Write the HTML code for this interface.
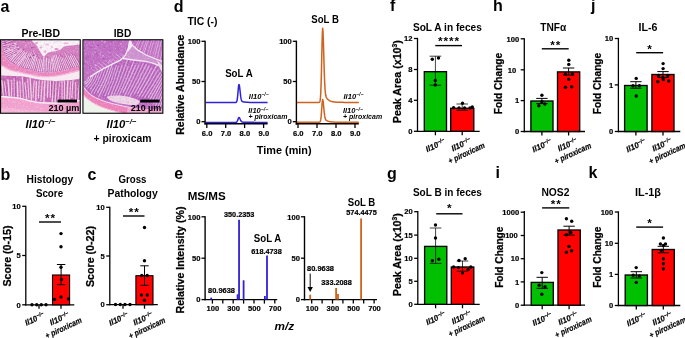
<!DOCTYPE html>
<html><head><meta charset="utf-8"><title>Figure</title>
<style>html,body{margin:0;padding:0;background:#fff;}svg{display:block;}text{font-family:"Liberation Sans",sans-serif;}</style>
</head><body>
<svg width="685" height="338" viewBox="0 0 685 338">
<rect width="685" height="338" fill="#fff"/>
<g opacity="0.999">
<text x="0.5" y="11.6" font-size="16" font-weight="bold" text-anchor="start" fill="#000" >a</text>
<text x="0.5" y="180" font-size="16" font-weight="bold" text-anchor="start" fill="#000" >b</text>
<text x="87.5" y="180" font-size="16" font-weight="bold" text-anchor="start" fill="#000" >c</text>
<text x="173.8" y="11.8" font-size="16" font-weight="bold" text-anchor="start" fill="#000" >d</text>
<text x="174.3" y="179.2" font-size="16" font-weight="bold" text-anchor="start" fill="#000" >e</text>
<text x="390" y="11.3" font-size="16" font-weight="bold" text-anchor="start" fill="#000" >f</text>
<text x="387" y="178.8" font-size="16" font-weight="bold" text-anchor="start" fill="#000" >g</text>
<text x="493" y="11.3" font-size="16" font-weight="bold" text-anchor="start" fill="#000" >h</text>
<text x="495.5" y="178.4" font-size="16" font-weight="bold" text-anchor="start" fill="#000" >i</text>
<text x="591" y="11.3" font-size="16" font-weight="bold" text-anchor="start" fill="#000" >j</text>
<text x="588.5" y="178.4" font-size="16" font-weight="bold" text-anchor="start" fill="#000" >k</text>
<text x="40.7" y="37.2" font-size="10.8" font-weight="bold" text-anchor="middle" fill="#000" textLength="38.6" lengthAdjust="spacingAndGlyphs" >Pre-IBD</text>
<text x="122.5" y="37.2" font-size="10.8" font-weight="bold" text-anchor="middle" fill="#000" textLength="17.5" lengthAdjust="spacingAndGlyphs" >IBD</text>
<g id="histo"><defs>
<filter id="bl" x="-5%" y="-5%" width="110%" height="110%"><feGaussianBlur stdDeviation="0.65"/></filter>
<filter id="bl3" x="-5%" y="-5%" width="110%" height="110%"><feGaussianBlur stdDeviation="0.35"/></filter>
<filter id="nz" x="0" y="0" width="100%" height="100%">
<feTurbulence type="fractalNoise" baseFrequency="0.6" numOctaves="2" seed="3" result="n"/>
<feColorMatrix in="n" type="matrix" values="0 0 0 0 1  0 0 0 0 1  0 0 0 0 1  0 0 0 -2.4 1.3" result="m"/>
<feComposite in="m" in2="SourceGraphic" operator="in"/>
</filter>
<filter id="nzd" x="0" y="0" width="100%" height="100%">
<feTurbulence type="fractalNoise" baseFrequency="0.7" numOctaves="2" seed="11" result="n"/>
<feColorMatrix in="n" type="matrix" values="0 0 0 0 0.55  0 0 0 0 0.2  0 0 0 0 0.6  0 0 0 -2.6 1.35" result="m"/>
<feComposite in="m" in2="SourceGraphic" operator="in"/>
</filter>
<pattern id="cr1" width="2.6" height="10" patternUnits="userSpaceOnUse"><rect width="2.6" height="10" fill="#b954ac"/><rect x="0" width="1.0" height="10" fill="#f1d6e8"/></pattern>
<pattern id="cr2" width="2.9" height="10" patternUnits="userSpaceOnUse" patternTransform="rotate(12)"><rect width="2.9" height="10" fill="#b457b6"/><rect x="0" width="0.9" height="10" fill="#e9c6e6"/></pattern>
<clipPath id="cpL"><rect x="0.9" y="40.1" width="79" height="72.8"/></clipPath>
<clipPath id="cpR"><rect x="83.3" y="40.1" width="79.3" height="72.8"/></clipPath>
</defs>
<g clip-path="url(#cpL)"><g filter="url(#bl)">
<rect x="0" y="39" width="81" height="75" fill="#f7e9f1"/>
<path d="M-1.0 40.0 C-0.5 40.9 1.0 43.2 1.8 45.3 C2.6 47.4 2.5 50.1 3.6 52.6 C4.7 55.1 6.1 58.2 8.5 60.5 C10.9 62.8 14.6 64.9 18.2 66.5 C21.8 68.1 26.2 69.2 30.3 70.2 C34.4 71.2 38.5 72.3 42.5 72.6 C46.5 72.9 50.6 72.5 54.6 72.0 C58.6 71.5 62.3 70.8 66.7 69.8 C71.1 68.8 78.6 66.9 81.0 66.3 L81.0 70.2 C78.6 70.8 71.1 72.8 66.7 73.8 C62.3 74.8 58.6 75.6 54.6 76.1 C50.6 76.6 46.5 77.0 42.5 76.7 C38.5 76.5 34.4 75.4 30.3 74.6 C26.2 73.8 21.6 72.6 18.2 71.8 C14.8 71.0 12.4 70.8 10.0 70.0 C7.6 69.2 5.8 68.0 4.0 67.0 C2.2 66.0 -0.2 64.5 -1.0 64.0 Z" fill="#eb84bd"/>
<path d="M81.0 70.2 C78.6 70.8 71.1 72.8 66.7 73.8 C62.3 74.8 58.6 75.6 54.6 76.1 C50.6 76.6 46.5 77.0 42.5 76.7 C38.5 76.5 34.4 75.4 30.3 74.6 C26.2 73.8 21.6 72.6 18.2 71.8 C14.8 71.0 12.4 70.8 10.0 70.0 C7.6 69.2 5.8 68.0 4.0 67.0 C2.2 66.0 -0.2 64.5 -1.0 64.0" fill="none" stroke="#f3b4d8" stroke-width="1.3"/>
<path d="M-1.0 40.0 C-0.5 40.9 1.0 43.2 1.8 45.3 C2.6 47.4 2.5 50.1 3.6 52.6 C4.7 55.1 6.1 58.2 8.5 60.5 C10.9 62.8 14.6 64.9 18.2 66.5 C21.8 68.1 26.2 69.2 30.3 70.2 C34.4 71.2 38.5 72.3 42.5 72.6 C46.5 72.9 50.6 72.5 54.6 72.0 C58.6 71.5 62.3 70.8 66.7 69.8 C71.1 68.8 78.6 66.9 81.0 66.3 L81 39 L-1 39 Z" fill="#d37cbe"/>
<clipPath id="cpM"><path d="M-1.0 40.0 C-0.5 40.9 1.0 43.2 1.8 45.3 C2.6 47.4 2.5 50.1 3.6 52.6 C4.7 55.1 6.1 58.2 8.5 60.5 C10.9 62.8 14.6 64.9 18.2 66.5 C21.8 68.1 26.2 69.2 30.3 70.2 C34.4 71.2 38.5 72.3 42.5 72.6 C46.5 72.9 50.6 72.5 54.6 72.0 C58.6 71.5 62.3 70.8 66.7 69.8 C71.1 68.8 78.6 66.9 81.0 66.3 L81 39 L-1 39 Z"/></clipPath><g clip-path="url(#cpM)">
<line x1="0.2" y1="40.6" x2="12.8" y2="36.8" stroke="#eecde3" stroke-width="1.19" stroke-linecap="round"/>
<line x1="-0.1" y1="41.6" x2="14.1" y2="37.2" stroke="#a6469e" stroke-width="0.75" opacity="0.8"/>
<line x1="1.5" y1="42.3" x2="12.2" y2="38.8" stroke="#eecde3" stroke-width="1.06" stroke-linecap="round"/>
<line x1="0.8" y1="43.4" x2="13.5" y2="39.2" stroke="#a6469e" stroke-width="0.75" opacity="0.8"/>
<line x1="2.3" y1="44.0" x2="13.0" y2="40.3" stroke="#eecde3" stroke-width="0.92" stroke-linecap="round"/>
<line x1="1.7" y1="45.1" x2="14.3" y2="40.8" stroke="#a6469e" stroke-width="0.75" opacity="0.8"/>
<line x1="2.7" y1="46.0" x2="16.3" y2="43.2" stroke="#eecde3" stroke-width="0.94" stroke-linecap="round"/>
<line x1="2.2" y1="47.0" x2="17.5" y2="43.8" stroke="#a6469e" stroke-width="0.75" opacity="0.8"/>
<line x1="3.9" y1="47.8" x2="16.7" y2="44.9" stroke="#eecde3" stroke-width="0.96" stroke-linecap="round"/>
<line x1="2.7" y1="48.9" x2="17.9" y2="45.5" stroke="#a6469e" stroke-width="0.75" opacity="0.8"/>
<line x1="4.2" y1="49.7" x2="15.9" y2="46.9" stroke="#eecde3" stroke-width="1.33" stroke-linecap="round"/>
<line x1="3.2" y1="50.8" x2="17.1" y2="47.5" stroke="#a6469e" stroke-width="0.75" opacity="0.8"/>
<line x1="4.4" y1="51.6" x2="18.3" y2="47.6" stroke="#eecde3" stroke-width="1.34" stroke-linecap="round"/>
<line x1="3.7" y1="52.7" x2="19.5" y2="48.2" stroke="#a6469e" stroke-width="0.75" opacity="0.8"/>
<line x1="5.6" y1="53.0" x2="15.3" y2="48.2" stroke="#eecde3" stroke-width="1.03" stroke-linecap="round"/>
<line x1="4.7" y1="54.4" x2="16.6" y2="48.5" stroke="#a6469e" stroke-width="0.75" opacity="0.8"/>
<line x1="5.9" y1="55.0" x2="16.7" y2="49.4" stroke="#eecde3" stroke-width="1.04" stroke-linecap="round"/>
<line x1="5.7" y1="56.1" x2="18.1" y2="49.7" stroke="#a6469e" stroke-width="0.75" opacity="0.8"/>
<line x1="7.0" y1="56.6" x2="21.2" y2="49.0" stroke="#eecde3" stroke-width="1.16" stroke-linecap="round"/>
<line x1="6.8" y1="57.7" x2="22.5" y2="49.2" stroke="#a6469e" stroke-width="0.75" opacity="0.8"/>
<line x1="8.2" y1="58.2" x2="21.2" y2="50.9" stroke="#eecde3" stroke-width="1.15" stroke-linecap="round"/>
<line x1="7.8" y1="59.4" x2="22.5" y2="51.1" stroke="#a6469e" stroke-width="0.75" opacity="0.8"/>
<line x1="8.9" y1="60.0" x2="18.3" y2="52.9" stroke="#eecde3" stroke-width="0.99" stroke-linecap="round"/>
<line x1="9.0" y1="61.0" x2="19.7" y2="52.9" stroke="#a6469e" stroke-width="0.75" opacity="0.8"/>
<line x1="10.7" y1="60.7" x2="20.9" y2="49.6" stroke="#eecde3" stroke-width="1.04" stroke-linecap="round"/>
<line x1="10.8" y1="61.9" x2="22.3" y2="49.3" stroke="#a6469e" stroke-width="0.75" opacity="0.8"/>
<line x1="12.4" y1="61.7" x2="22.0" y2="50.9" stroke="#eecde3" stroke-width="1.03" stroke-linecap="round"/>
<line x1="12.4" y1="62.9" x2="23.4" y2="50.6" stroke="#a6469e" stroke-width="0.75" opacity="0.8"/>
<line x1="14.2" y1="62.5" x2="24.3" y2="50.8" stroke="#eecde3" stroke-width="1.01" stroke-linecap="round"/>
<line x1="14.1" y1="64.0" x2="25.7" y2="50.5" stroke="#a6469e" stroke-width="0.75" opacity="0.8"/>
<line x1="15.8" y1="63.7" x2="24.9" y2="52.7" stroke="#eecde3" stroke-width="1.29" stroke-linecap="round"/>
<line x1="15.8" y1="65.0" x2="26.3" y2="52.3" stroke="#a6469e" stroke-width="0.75" opacity="0.8"/>
<line x1="17.3" y1="64.9" x2="26.9" y2="52.8" stroke="#eecde3" stroke-width="1.34" stroke-linecap="round"/>
<line x1="17.5" y1="66.0" x2="28.3" y2="52.5" stroke="#a6469e" stroke-width="0.75" opacity="0.8"/>
<line x1="19.0" y1="65.7" x2="25.2" y2="55.8" stroke="#eecde3" stroke-width="1.24" stroke-linecap="round"/>
<line x1="19.2" y1="66.9" x2="26.5" y2="55.3" stroke="#a6469e" stroke-width="0.75" opacity="0.8"/>
<line x1="20.8" y1="66.2" x2="26.3" y2="55.7" stroke="#eecde3" stroke-width="0.92" stroke-linecap="round"/>
<line x1="21.1" y1="67.4" x2="27.6" y2="55.1" stroke="#a6469e" stroke-width="0.75" opacity="0.8"/>
<line x1="22.8" y1="66.5" x2="29.3" y2="53.4" stroke="#eecde3" stroke-width="1.16" stroke-linecap="round"/>
<line x1="23.0" y1="68.0" x2="30.6" y2="52.7" stroke="#a6469e" stroke-width="0.75" opacity="0.8"/>
<line x1="24.5" y1="67.5" x2="31.4" y2="52.7" stroke="#eecde3" stroke-width="1.21" stroke-linecap="round"/>
<line x1="24.9" y1="68.5" x2="32.7" y2="52.0" stroke="#a6469e" stroke-width="0.75" opacity="0.8"/>
<line x1="26.4" y1="67.8" x2="32.3" y2="54.7" stroke="#eecde3" stroke-width="1.11" stroke-linecap="round"/>
<line x1="26.8" y1="69.1" x2="33.5" y2="54.0" stroke="#a6469e" stroke-width="0.75" opacity="0.8"/>
<line x1="28.4" y1="68.0" x2="34.5" y2="53.7" stroke="#eecde3" stroke-width="1.11" stroke-linecap="round"/>
<line x1="28.7" y1="69.7" x2="35.7" y2="53.1" stroke="#a6469e" stroke-width="0.75" opacity="0.8"/>
<line x1="30.0" y1="69.4" x2="35.4" y2="55.1" stroke="#eecde3" stroke-width="1.22" stroke-linecap="round"/>
<line x1="30.5" y1="70.3" x2="36.6" y2="54.4" stroke="#a6469e" stroke-width="0.75" opacity="0.8"/>
<line x1="32.1" y1="68.9" x2="36.2" y2="55.3" stroke="#eecde3" stroke-width="1.27" stroke-linecap="round"/>
<line x1="32.5" y1="70.6" x2="37.3" y2="54.5" stroke="#a6469e" stroke-width="0.75" opacity="0.8"/>
<line x1="33.8" y1="69.9" x2="37.2" y2="57.6" stroke="#eecde3" stroke-width="1.20" stroke-linecap="round"/>
<line x1="34.4" y1="71.0" x2="38.3" y2="56.8" stroke="#a6469e" stroke-width="0.75" opacity="0.8"/>
<line x1="35.8" y1="70.2" x2="38.5" y2="59.5" stroke="#eecde3" stroke-width="0.98" stroke-linecap="round"/>
<line x1="36.3" y1="71.4" x2="39.5" y2="58.6" stroke="#a6469e" stroke-width="0.75" opacity="0.8"/>
<line x1="37.6" y1="71.0" x2="40.2" y2="59.2" stroke="#eecde3" stroke-width="1.25" stroke-linecap="round"/>
<line x1="38.3" y1="71.8" x2="41.3" y2="58.4" stroke="#a6469e" stroke-width="0.75" opacity="0.8"/>
<line x1="39.5" y1="71.2" x2="41.9" y2="59.5" stroke="#eecde3" stroke-width="1.08" stroke-linecap="round"/>
<line x1="40.2" y1="72.1" x2="42.9" y2="58.6" stroke="#a6469e" stroke-width="0.75" opacity="0.8"/>
<line x1="41.4" y1="71.7" x2="44.3" y2="55.4" stroke="#eecde3" stroke-width="1.10" stroke-linecap="round"/>
<line x1="42.1" y1="72.5" x2="45.3" y2="54.6" stroke="#a6469e" stroke-width="0.75" opacity="0.8"/>
<line x1="43.3" y1="71.1" x2="43.6" y2="57.3" stroke="#eecde3" stroke-width="1.27" stroke-linecap="round"/>
<line x1="44.1" y1="72.5" x2="44.4" y2="56.3" stroke="#a6469e" stroke-width="0.75" opacity="0.8"/>
<line x1="45.2" y1="71.6" x2="44.9" y2="55.3" stroke="#eecde3" stroke-width="1.09" stroke-linecap="round"/>
<line x1="46.1" y1="72.4" x2="45.7" y2="54.2" stroke="#a6469e" stroke-width="0.75" opacity="0.8"/>
<line x1="47.1" y1="70.9" x2="46.6" y2="58.2" stroke="#eecde3" stroke-width="1.33" stroke-linecap="round"/>
<line x1="48.0" y1="72.3" x2="47.4" y2="57.2" stroke="#a6469e" stroke-width="0.75" opacity="0.8"/>
<line x1="49.1" y1="71.5" x2="48.3" y2="59.4" stroke="#eecde3" stroke-width="1.00" stroke-linecap="round"/>
<line x1="50.0" y1="72.2" x2="49.0" y2="58.4" stroke="#a6469e" stroke-width="0.75" opacity="0.8"/>
<line x1="51.0" y1="71.1" x2="49.9" y2="58.8" stroke="#eecde3" stroke-width="1.17" stroke-linecap="round"/>
<line x1="52.0" y1="72.1" x2="50.6" y2="57.8" stroke="#a6469e" stroke-width="0.75" opacity="0.8"/>
<line x1="53.0" y1="71.5" x2="51.5" y2="58.6" stroke="#eecde3" stroke-width="1.09" stroke-linecap="round"/>
<line x1="53.9" y1="72.0" x2="52.2" y2="57.6" stroke="#a6469e" stroke-width="0.75" opacity="0.8"/>
<line x1="54.8" y1="70.8" x2="52.3" y2="58.0" stroke="#eecde3" stroke-width="1.33" stroke-linecap="round"/>
<line x1="55.9" y1="71.8" x2="52.9" y2="56.9" stroke="#a6469e" stroke-width="0.75" opacity="0.8"/>
<line x1="56.7" y1="70.5" x2="53.1" y2="55.9" stroke="#eecde3" stroke-width="1.18" stroke-linecap="round"/>
<line x1="57.8" y1="71.4" x2="53.7" y2="54.8" stroke="#a6469e" stroke-width="0.75" opacity="0.8"/>
<line x1="58.7" y1="70.6" x2="54.7" y2="55.7" stroke="#eecde3" stroke-width="1.30" stroke-linecap="round"/>
<line x1="59.7" y1="71.1" x2="55.3" y2="54.6" stroke="#a6469e" stroke-width="0.75" opacity="0.8"/>
<line x1="60.4" y1="69.5" x2="56.1" y2="54.9" stroke="#eecde3" stroke-width="1.26" stroke-linecap="round"/>
<line x1="61.7" y1="70.7" x2="56.7" y2="53.8" stroke="#a6469e" stroke-width="0.75" opacity="0.8"/>
<line x1="62.5" y1="69.6" x2="58.4" y2="56.8" stroke="#eecde3" stroke-width="0.95" stroke-linecap="round"/>
<line x1="63.6" y1="70.4" x2="59.0" y2="55.7" stroke="#a6469e" stroke-width="0.75" opacity="0.8"/>
<line x1="64.5" y1="69.5" x2="59.6" y2="55.2" stroke="#eecde3" stroke-width="0.93" stroke-linecap="round"/>
<line x1="65.6" y1="70.0" x2="60.1" y2="54.1" stroke="#a6469e" stroke-width="0.75" opacity="0.8"/>
<line x1="66.4" y1="69.1" x2="61.9" y2="57.4" stroke="#eecde3" stroke-width="1.05" stroke-linecap="round"/>
<line x1="67.5" y1="69.6" x2="62.4" y2="56.3" stroke="#a6469e" stroke-width="0.75" opacity="0.8"/>
<line x1="68.3" y1="68.8" x2="63.7" y2="58.0" stroke="#eecde3" stroke-width="0.97" stroke-linecap="round"/>
<line x1="69.4" y1="69.1" x2="64.1" y2="56.9" stroke="#a6469e" stroke-width="0.75" opacity="0.8"/>
<line x1="70.1" y1="68.0" x2="65.3" y2="57.4" stroke="#eecde3" stroke-width="0.91" stroke-linecap="round"/>
<line x1="71.3" y1="68.7" x2="65.7" y2="56.3" stroke="#a6469e" stroke-width="0.75" opacity="0.8"/>
<line x1="71.9" y1="67.3" x2="65.0" y2="52.8" stroke="#eecde3" stroke-width="0.97" stroke-linecap="round"/>
<line x1="73.2" y1="68.2" x2="65.4" y2="51.7" stroke="#a6469e" stroke-width="0.75" opacity="0.8"/>
<line x1="73.9" y1="67.1" x2="68.3" y2="55.8" stroke="#eecde3" stroke-width="1.06" stroke-linecap="round"/>
<line x1="75.1" y1="67.7" x2="68.7" y2="54.7" stroke="#a6469e" stroke-width="0.75" opacity="0.8"/>
<line x1="75.6" y1="66.2" x2="70.4" y2="56.1" stroke="#eecde3" stroke-width="1.35" stroke-linecap="round"/>
<line x1="77.0" y1="67.3" x2="70.8" y2="55.1" stroke="#a6469e" stroke-width="0.75" opacity="0.8"/>
<line x1="77.6" y1="66.0" x2="71.2" y2="54.0" stroke="#eecde3" stroke-width="0.94" stroke-linecap="round"/>
<line x1="79.0" y1="66.8" x2="71.5" y2="52.9" stroke="#a6469e" stroke-width="0.75" opacity="0.8"/>
<line x1="79.6" y1="65.7" x2="73.9" y2="55.5" stroke="#eecde3" stroke-width="1.02" stroke-linecap="round"/>
<line x1="80.9" y1="66.3" x2="74.3" y2="54.4" stroke="#a6469e" stroke-width="0.75" opacity="0.8"/>
<circle cx="28.4" cy="42.9" r="0.62" fill="#e9a4cf"/>
<circle cx="32.4" cy="46.5" r="1.05" fill="#dd86c2"/>
<circle cx="26.0" cy="45.4" r="0.92" fill="#e9a4cf"/>
<circle cx="9.6" cy="46.6" r="0.71" fill="#a94aa2"/>
<circle cx="8.4" cy="49.7" r="0.70" fill="#dd86c2"/>
<circle cx="33.5" cy="55.3" r="0.99" fill="#a94aa2"/>
<circle cx="25.4" cy="44.1" r="0.80" fill="#dd86c2"/>
<circle cx="25.1" cy="57.8" r="0.78" fill="#f0c2de"/>
<circle cx="12.4" cy="54.6" r="1.07" fill="#f0c2de"/>
<circle cx="13.0" cy="44.0" r="0.78" fill="#a94aa2"/>
<circle cx="12.1" cy="48.7" r="1.00" fill="#dd86c2"/>
<circle cx="16.8" cy="51.8" r="1.00" fill="#e9a4cf"/>
<circle cx="5.0" cy="47.0" r="0.79" fill="#a94aa2"/>
<circle cx="12.0" cy="54.4" r="0.78" fill="#b655ab"/>
<circle cx="25.5" cy="41.5" r="0.60" fill="#a94aa2"/>
<circle cx="5.2" cy="42.7" r="0.98" fill="#b655ab"/>
<circle cx="33.4" cy="51.8" r="0.59" fill="#f0c2de"/>
<circle cx="19.1" cy="40.4" r="0.82" fill="#e9a4cf"/>
<circle cx="31.8" cy="47.8" r="1.00" fill="#a94aa2"/>
<circle cx="8.0" cy="44.5" r="0.80" fill="#f0c2de"/>
<circle cx="26.2" cy="45.9" r="0.75" fill="#dd86c2"/>
<circle cx="12.7" cy="48.2" r="0.99" fill="#dd86c2"/>
<circle cx="18.1" cy="54.9" r="0.58" fill="#dd86c2"/>
<circle cx="6.0" cy="49.2" r="0.97" fill="#b655ab"/>
<circle cx="21.1" cy="54.0" r="0.60" fill="#a94aa2"/>
<circle cx="16.6" cy="53.1" r="0.54" fill="#dd86c2"/>
<circle cx="23.5" cy="49.6" r="0.97" fill="#b655ab"/>
<circle cx="9.2" cy="45.0" r="0.80" fill="#e9a4cf"/>
<circle cx="19.5" cy="53.7" r="0.77" fill="#e9a4cf"/>
<circle cx="21.2" cy="49.1" r="0.62" fill="#dd86c2"/>
<circle cx="10.1" cy="49.1" r="0.80" fill="#b655ab"/>
<circle cx="9.2" cy="49.4" r="1.05" fill="#f0c2de"/>
<circle cx="30.5" cy="43.6" r="0.58" fill="#b655ab"/>
<circle cx="5.0" cy="48.0" r="0.90" fill="#e9a4cf"/>
<circle cx="15.1" cy="43.8" r="0.97" fill="#f0c2de"/>
<circle cx="30.6" cy="42.8" r="0.59" fill="#f0c2de"/>
<circle cx="30.1" cy="57.4" r="0.95" fill="#a94aa2"/>
<circle cx="33.8" cy="47.3" r="0.62" fill="#b655ab"/>
<circle cx="11.5" cy="53.0" r="0.70" fill="#e9a4cf"/>
<circle cx="16.1" cy="52.7" r="0.70" fill="#b655ab"/>
<circle cx="21.6" cy="49.2" r="0.57" fill="#e9a4cf"/>
<circle cx="31.3" cy="44.1" r="0.55" fill="#e9a4cf"/>
<circle cx="28.1" cy="55.3" r="0.74" fill="#f0c2de"/>
<circle cx="18.7" cy="49.3" r="0.92" fill="#b655ab"/>
<circle cx="4.0" cy="41.0" r="0.76" fill="#a94aa2"/>
<circle cx="21.9" cy="54.4" r="0.86" fill="#e9a4cf"/>
<circle cx="8.3" cy="44.8" r="0.77" fill="#e9a4cf"/>
<circle cx="12.2" cy="50.0" r="0.87" fill="#f0c2de"/>
</g>
<path d="M31.0 39.0 C31.3 39.5 32.1 41.0 33.0 42.0 C33.9 43.0 35.2 43.8 36.4 45.3 C37.6 46.8 38.8 49.5 40.0 51.3 C41.2 53.1 42.3 56.0 43.7 56.2 C45.1 56.4 46.7 53.4 48.5 52.6 C50.3 51.8 52.6 51.8 54.6 51.3 C56.6 50.8 59.1 50.3 60.7 49.5 C62.3 48.7 62.3 47.2 64.3 46.5 C66.3 45.8 70.0 45.7 72.8 45.3 C75.6 44.9 79.6 45.0 81.0 44.0 C82.4 43.0 81.0 39.8 81.0 39.0 Z" fill="#faf3f8"/>
<ellipse cx="36.5" cy="43" rx="1.6" ry="1.0" fill="#e59acb"/>
<ellipse cx="41" cy="47.5" rx="1.3" ry="0.9" fill="#e7a6d0"/>
<ellipse cx="47" cy="44.5" rx="2.2" ry="1.0" fill="#f0c4de"/>
<ellipse cx="56.5" cy="49.2" rx="2.2" ry="1.1" fill="#e590c6"/>
<ellipse cx="52" cy="47" rx="1.2" ry="0.8" fill="#eab0d4"/>
<ellipse cx="66" cy="43.2" rx="2.5" ry="0.9" fill="#eeb8d8"/>
<ellipse cx="45" cy="51.5" rx="1.2" ry="1.2" fill="#e9a8d0"/>
<path d="M-1.0 75.6 C1.2 75.7 7.8 75.8 12.0 76.0 C16.2 76.2 19.6 76.1 24.3 76.7 C29.0 77.3 35.0 79.0 40.0 79.7 C45.0 80.4 49.9 80.8 54.6 80.9 C59.3 81.0 63.6 80.7 68.0 80.3 C72.4 79.9 78.8 78.7 81.0 78.4 L81.0 99.5 C79.2 99.8 73.8 100.8 70.0 101.2 C66.2 101.7 62.9 102.1 58.3 102.2 C53.7 102.3 47.2 102.4 42.5 102.1 C37.8 101.8 34.4 101.0 30.3 100.2 C26.2 99.4 23.4 98.0 18.2 97.3 C13.0 96.6 2.2 96.0 -1.0 95.8 Z" fill="#c566b4"/>
<clipPath id="cpLM"><path d="M-1.0 75.6 C1.2 75.7 7.8 75.8 12.0 76.0 C16.2 76.2 19.6 76.1 24.3 76.7 C29.0 77.3 35.0 79.0 40.0 79.7 C45.0 80.4 49.9 80.8 54.6 80.9 C59.3 81.0 63.6 80.7 68.0 80.3 C72.4 79.9 78.8 78.7 81.0 78.4 L81.0 99.5 C79.2 99.8 73.8 100.8 70.0 101.2 C66.2 101.7 62.9 102.1 58.3 102.2 C53.7 102.3 47.2 102.4 42.5 102.1 C37.8 101.8 34.4 101.0 30.3 100.2 C26.2 99.4 23.4 98.0 18.2 97.3 C13.0 96.6 2.2 96.0 -1.0 95.8 Z"/></clipPath><g clip-path="url(#cpLM)">
<line x1="0.5" y1="81.3" x2="0.5" y2="103.6" stroke="#eecbe2" stroke-width="0.93" stroke-linecap="round"/>
<line x1="1.6" y1="79.3" x2="1.6" y2="104.6" stroke="#a2429c" stroke-width="0.7" opacity="0.7"/>
<line x1="1.8" y1="80.8" x2="4.2" y2="100.7" stroke="#eecbe2" stroke-width="1.46" stroke-linecap="round"/>
<line x1="4.1" y1="78.8" x2="4.1" y2="101.7" stroke="#a2429c" stroke-width="0.7" opacity="0.7"/>
<line x1="4.5" y1="81.8" x2="7.4" y2="104.0" stroke="#eecbe2" stroke-width="1.06" stroke-linecap="round"/>
<line x1="7.1" y1="79.8" x2="7.1" y2="105.0" stroke="#a2429c" stroke-width="0.7" opacity="0.7"/>
<line x1="8.0" y1="80.1" x2="9.5" y2="98.7" stroke="#eecbe2" stroke-width="1.49" stroke-linecap="round"/>
<line x1="11.9" y1="80.3" x2="11.5" y2="103.2" stroke="#eecbe2" stroke-width="1.29" stroke-linecap="round"/>
<line x1="12.8" y1="78.3" x2="12.8" y2="104.2" stroke="#a2429c" stroke-width="0.7" opacity="0.7"/>
<line x1="14.1" y1="78.2" x2="14.4" y2="103.2" stroke="#eecbe2" stroke-width="1.04" stroke-linecap="round"/>
<line x1="15.3" y1="76.2" x2="15.3" y2="104.2" stroke="#a2429c" stroke-width="0.7" opacity="0.7"/>
<line x1="17.3" y1="82.0" x2="17.8" y2="97.1" stroke="#eecbe2" stroke-width="1.49" stroke-linecap="round"/>
<line x1="19.9" y1="81.0" x2="20.6" y2="99.7" stroke="#eecbe2" stroke-width="0.93" stroke-linecap="round"/>
<line x1="22.4" y1="77.3" x2="23.8" y2="98.3" stroke="#eecbe2" stroke-width="1.32" stroke-linecap="round"/>
<line x1="24.2" y1="75.3" x2="24.2" y2="99.3" stroke="#a2429c" stroke-width="0.7" opacity="0.7"/>
<line x1="24.8" y1="82.9" x2="26.8" y2="99.3" stroke="#eecbe2" stroke-width="1.10" stroke-linecap="round"/>
<line x1="27.7" y1="79.0" x2="28.9" y2="97.6" stroke="#eecbe2" stroke-width="1.01" stroke-linecap="round"/>
<line x1="30.1" y1="77.5" x2="31.6" y2="102.7" stroke="#eecbe2" stroke-width="1.37" stroke-linecap="round"/>
<line x1="34.2" y1="80.8" x2="33.0" y2="97.6" stroke="#eecbe2" stroke-width="1.08" stroke-linecap="round"/>
<line x1="36.4" y1="81.7" x2="35.7" y2="101.2" stroke="#eecbe2" stroke-width="1.44" stroke-linecap="round"/>
<line x1="39.3" y1="80.7" x2="38.3" y2="98.0" stroke="#eecbe2" stroke-width="1.07" stroke-linecap="round"/>
<line x1="42.3" y1="81.2" x2="40.9" y2="100.5" stroke="#eecbe2" stroke-width="1.16" stroke-linecap="round"/>
<line x1="45.1" y1="77.1" x2="43.9" y2="101.8" stroke="#eecbe2" stroke-width="1.39" stroke-linecap="round"/>
<line x1="48.1" y1="77.5" x2="47.4" y2="97.3" stroke="#eecbe2" stroke-width="1.29" stroke-linecap="round"/>
<line x1="50.7" y1="77.3" x2="50.2" y2="97.1" stroke="#eecbe2" stroke-width="1.17" stroke-linecap="round"/>
<line x1="51.5" y1="75.3" x2="51.5" y2="98.1" stroke="#a2429c" stroke-width="0.7" opacity="0.7"/>
<line x1="53.9" y1="77.4" x2="52.1" y2="103.5" stroke="#eecbe2" stroke-width="1.17" stroke-linecap="round"/>
<line x1="54.1" y1="75.4" x2="54.1" y2="104.5" stroke="#a2429c" stroke-width="0.7" opacity="0.7"/>
<line x1="56.7" y1="79.8" x2="55.0" y2="102.7" stroke="#eecbe2" stroke-width="1.35" stroke-linecap="round"/>
<line x1="56.9" y1="77.8" x2="56.9" y2="103.7" stroke="#a2429c" stroke-width="0.7" opacity="0.7"/>
<line x1="59.8" y1="80.9" x2="57.9" y2="100.2" stroke="#eecbe2" stroke-width="1.04" stroke-linecap="round"/>
<line x1="60.0" y1="78.9" x2="60.0" y2="101.2" stroke="#a2429c" stroke-width="0.7" opacity="0.7"/>
<line x1="62.0" y1="77.3" x2="62.1" y2="101.4" stroke="#eecbe2" stroke-width="1.07" stroke-linecap="round"/>
<line x1="64.6" y1="81.2" x2="64.8" y2="101.3" stroke="#eecbe2" stroke-width="1.29" stroke-linecap="round"/>
<line x1="65.8" y1="79.2" x2="65.8" y2="102.3" stroke="#a2429c" stroke-width="0.7" opacity="0.7"/>
<line x1="68.0" y1="77.6" x2="67.0" y2="98.5" stroke="#eecbe2" stroke-width="1.48" stroke-linecap="round"/>
<line x1="70.8" y1="81.6" x2="69.4" y2="104.0" stroke="#eecbe2" stroke-width="1.18" stroke-linecap="round"/>
<line x1="71.2" y1="79.6" x2="71.2" y2="105.0" stroke="#a2429c" stroke-width="0.7" opacity="0.7"/>
<line x1="73.1" y1="78.7" x2="71.8" y2="97.5" stroke="#eecbe2" stroke-width="1.18" stroke-linecap="round"/>
<line x1="75.8" y1="82.5" x2="75.7" y2="103.5" stroke="#eecbe2" stroke-width="1.13" stroke-linecap="round"/>
<line x1="76.9" y1="80.5" x2="76.9" y2="104.5" stroke="#a2429c" stroke-width="0.7" opacity="0.7"/>
<line x1="79.8" y1="79.2" x2="77.8" y2="101.2" stroke="#eecbe2" stroke-width="1.06" stroke-linecap="round"/>
<line x1="79.9" y1="77.2" x2="79.9" y2="102.2" stroke="#a2429c" stroke-width="0.7" opacity="0.7"/>
</g>
<path d="M81.0 100.5 C79.2 100.8 73.8 101.8 70.0 102.2 C66.2 102.7 62.9 103.1 58.3 103.2 C53.7 103.3 47.2 103.4 42.5 103.1 C37.8 102.8 34.4 102.0 30.3 101.2 C26.2 100.4 23.4 99.0 18.2 98.3 C13.0 97.6 2.2 97.0 -1.0 96.8 L-1 115 L81 115 Z" fill="#f19fcd"/>
<path d="M81.0 100.5 C79.2 100.8 73.8 101.8 70.0 102.2 C66.2 102.7 62.9 103.1 58.3 103.2 C53.7 103.3 47.2 103.4 42.5 103.1 C37.8 102.8 34.4 102.0 30.3 101.2 C26.2 100.4 23.4 99.0 18.2 98.3 C13.0 97.6 2.2 97.0 -1.0 96.8" fill="none" stroke="#fbeef6" stroke-width="0.9"/>
<path d="M-1 107.5 C14 108.5 28 110 41 111 C52 112 68 112.5 81 112.5 V115 H-1 Z" fill="#f4b2d7"/>
</g>
<rect x="0" y="39" width="81" height="75" fill="#fff" filter="url(#nz)" opacity="0.33"/>
<g clip-path="url(#cpM)"><rect x="0" y="39" width="81" height="40" fill="#fff" filter="url(#nzd)" opacity="0.3"/></g>
</g>
<rect x="0.55" y="39.75" width="79.7" height="73.5" fill="none" stroke="#000" stroke-width="1.1"/>
<rect x="57.6" y="99.6" width="19.4" height="2.9" fill="#000"/>
<text x="79.4" y="111.1" font-size="8.8" font-weight="bold" text-anchor="end" textLength="31" lengthAdjust="spacingAndGlyphs">210 µm</text>
<g clip-path="url(#cpR)"><g filter="url(#bl)">
<rect x="82" y="39" width="82" height="75" fill="#bf6cc2"/>
<path d="M88.7 77.2 Q88.4 81.5 83.3 82.5" fill="none" stroke="#e0b8de" stroke-width="1.24" stroke-linecap="round" opacity="0.9"/>
<path d="M90.7 75.5 Q89.3 81.7 83.1 84.6" fill="none" stroke="#9c48a8" stroke-width="0.8" opacity="0.6"/>
<path d="M91.2 75.6 Q90.4 81.4 85.1 83.9" fill="none" stroke="#e0b8de" stroke-width="1.27" stroke-linecap="round" opacity="0.9"/>
<path d="M93.4 73.5 Q91.0 81.9 84.2 87.1" fill="none" stroke="#9c48a8" stroke-width="0.8" opacity="0.6"/>
<path d="M93.3 74.9 Q91.8 82.1 86.1 86.3" fill="none" stroke="#e0b8de" stroke-width="1.16" stroke-linecap="round" opacity="0.9"/>
<path d="M96.3 71.7 Q93.0 82.1 85.6 89.5" fill="none" stroke="#9c48a8" stroke-width="0.8" opacity="0.6"/>
<path d="M96.6 73.0 Q94.3 81.8 88.1 87.8" fill="none" stroke="#e0b8de" stroke-width="0.86" stroke-linecap="round" opacity="0.9"/>
<path d="M99.2 70.1 Q95.4 82.1 87.6 91.4" fill="none" stroke="#9c48a8" stroke-width="0.8" opacity="0.6"/>
<path d="M99.6 71.4 Q96.8 81.5 90.4 89.0" fill="none" stroke="#e0b8de" stroke-width="0.97" stroke-linecap="round" opacity="0.9"/>
<path d="M102.2 68.5 Q97.8 82.2 89.7 93.3" fill="none" stroke="#9c48a8" stroke-width="0.8" opacity="0.6"/>
<path d="M102.4 70.5 Q98.5 83.1 91.2 93.2" fill="none" stroke="#e0b8de" stroke-width="0.90" stroke-linecap="round" opacity="0.9"/>
<path d="M105.2 67.0 Q100.3 82.2 91.9 94.9" fill="none" stroke="#9c48a8" stroke-width="0.8" opacity="0.6"/>
<path d="M106.2 67.5 Q101.8 81.6 94.2 93.3" fill="none" stroke="#e0b8de" stroke-width="0.93" stroke-linecap="round" opacity="0.9"/>
<path d="M108.2 65.5 Q102.9 82.0 94.4 96.1" fill="none" stroke="#9c48a8" stroke-width="0.8" opacity="0.6"/>
<path d="M109.0 66.4 Q104.8 80.5 97.6 92.4" fill="none" stroke="#e0b8de" stroke-width="1.23" stroke-linecap="round" opacity="0.9"/>
<path d="M111.3 64.0 Q105.6 81.7 96.9 97.3" fill="none" stroke="#9c48a8" stroke-width="0.8" opacity="0.6"/>
<path d="M112.0 65.0 Q106.8 81.7 98.8 96.4" fill="none" stroke="#e0b8de" stroke-width="1.18" stroke-linecap="round" opacity="0.9"/>
<path d="M114.2 62.3 Q108.2 81.4 99.5 98.4" fill="none" stroke="#9c48a8" stroke-width="0.8" opacity="0.6"/>
<path d="M113.0 68.0 Q109.3 81.4 103.1 93.0" fill="none" stroke="#e0b8de" stroke-width="0.83" stroke-linecap="round" opacity="0.9"/>
<path d="M117.1 60.6 Q110.9 80.7 102.2 99.0" fill="none" stroke="#9c48a8" stroke-width="0.8" opacity="0.6"/>
<path d="M116.3 65.5 Q111.8 81.4 104.9 95.7" fill="none" stroke="#e0b8de" stroke-width="0.87" stroke-linecap="round" opacity="0.9"/>
<path d="M119.9 58.8 Q113.6 80.1 104.9 99.7" fill="none" stroke="#9c48a8" stroke-width="0.8" opacity="0.6"/>
<path d="M118.4 66.1 Q114.4 81.2 108.2 94.7" fill="none" stroke="#e0b8de" stroke-width="0.96" stroke-linecap="round" opacity="0.9"/>
<path d="M122.9 57.7 Q116.3 79.8 107.6 100.3" fill="none" stroke="#9c48a8" stroke-width="0.8" opacity="0.6"/>
<path d="M122.0 65.1 Q117.0 82.1 110.0 97.8" fill="none" stroke="#e0b8de" stroke-width="1.01" stroke-linecap="round" opacity="0.9"/>
<path d="M126.2 58.6 Q119.2 80.2 110.4 100.4" fill="none" stroke="#9c48a8" stroke-width="0.8" opacity="0.6"/>
<path d="M127.1 60.7 Q120.9 79.6 112.9 97.3" fill="none" stroke="#e0b8de" stroke-width="1.00" stroke-linecap="round" opacity="0.9"/>
<path d="M129.5 59.0 Q122.2 80.2 113.1 100.0" fill="none" stroke="#9c48a8" stroke-width="0.8" opacity="0.6"/>
<path d="M128.2 66.5 Q123.0 81.6 116.3 95.5" fill="none" stroke="#e0b8de" stroke-width="0.90" stroke-linecap="round" opacity="0.9"/>
<path d="M132.8 59.4 Q125.2 80.1 115.9 99.6" fill="none" stroke="#9c48a8" stroke-width="0.8" opacity="0.6"/>
<path d="M133.6 61.7 Q126.5 80.2 118.0 97.8" fill="none" stroke="#e0b8de" stroke-width="1.01" stroke-linecap="round" opacity="0.9"/>
<path d="M136.2 59.8 Q128.2 80.0 118.7 99.2" fill="none" stroke="#9c48a8" stroke-width="0.8" opacity="0.6"/>
<path d="M135.4 65.4 Q129.9 79.2 123.2 92.1" fill="none" stroke="#e0b8de" stroke-width="1.23" stroke-linecap="round" opacity="0.9"/>
<path d="M139.5 60.2 Q131.1 80.1 121.4 99.1" fill="none" stroke="#9c48a8" stroke-width="0.8" opacity="0.6"/>
<path d="M139.0 64.9 Q131.9 81.6 123.7 97.4" fill="none" stroke="#e0b8de" stroke-width="1.08" stroke-linecap="round" opacity="0.9"/>
<path d="M142.9 60.6 Q134.1 80.3 124.2 99.2" fill="none" stroke="#9c48a8" stroke-width="0.8" opacity="0.6"/>
<path d="M143.3 63.3 Q136.2 79.2 128.1 94.3" fill="none" stroke="#e0b8de" stroke-width="0.94" stroke-linecap="round" opacity="0.9"/>
<path d="M146.2 61.0 Q137.1 80.6 127.0 99.4" fill="none" stroke="#9c48a8" stroke-width="0.8" opacity="0.6"/>
<path d="M146.3 64.4 Q138.5 80.8 129.9 96.6" fill="none" stroke="#e0b8de" stroke-width="1.13" stroke-linecap="round" opacity="0.9"/>
<path d="M149.5 61.6 Q140.1 80.9 129.8 99.5" fill="none" stroke="#9c48a8" stroke-width="0.8" opacity="0.6"/>
<path d="M149.1 65.9 Q142.1 80.1 134.4 93.7" fill="none" stroke="#e0b8de" stroke-width="1.04" stroke-linecap="round" opacity="0.9"/>
<path d="M152.9 62.2 Q143.1 81.3 132.6 99.9" fill="none" stroke="#9c48a8" stroke-width="0.8" opacity="0.6"/>
<path d="M151.5 68.1 Q144.9 80.9 137.6 93.3" fill="none" stroke="#e0b8de" stroke-width="1.12" stroke-linecap="round" opacity="0.9"/>
<path d="M156.1 63.2 Q146.0 82.0 135.3 100.3" fill="none" stroke="#9c48a8" stroke-width="0.8" opacity="0.6"/>
<path d="M156.5 65.8 Q148.1 81.3 139.1 96.3" fill="none" stroke="#e0b8de" stroke-width="1.21" stroke-linecap="round" opacity="0.9"/>
<path d="M159.1 64.7 Q148.9 82.9 138.1 100.7" fill="none" stroke="#9c48a8" stroke-width="0.8" opacity="0.6"/>
<path d="M157.9 69.9 Q150.2 83.4 142.1 96.5" fill="none" stroke="#e0b8de" stroke-width="0.97" stroke-linecap="round" opacity="0.9"/>
<path d="M162.1 66.1 Q151.7 83.9 140.8 101.3" fill="none" stroke="#9c48a8" stroke-width="0.8" opacity="0.6"/>
<path d="M160.2 72.5 Q152.7 85.1 144.8 97.3" fill="none" stroke="#e0b8de" stroke-width="1.07" stroke-linecap="round" opacity="0.9"/>
<path d="M165.0 67.7 Q154.4 85.1 143.4 102.3" fill="none" stroke="#9c48a8" stroke-width="0.8" opacity="0.6"/>
<path d="M163.5 72.0 Q156.0 84.7 148.2 97.1" fill="none" stroke="#e0b8de" stroke-width="1.08" stroke-linecap="round" opacity="0.9"/>
<path d="M165.2 71.1 Q155.8 87.3 146.0 103.3" fill="none" stroke="#9c48a8" stroke-width="0.8" opacity="0.6"/>
<path d="M163.7 75.6 Q156.9 87.6 149.8 99.5" fill="none" stroke="#e0b8de" stroke-width="1.20" stroke-linecap="round" opacity="0.9"/>
<path d="M165.4 74.4 Q157.1 89.5 148.6 104.3" fill="none" stroke="#9c48a8" stroke-width="0.8" opacity="0.6"/>
<path d="M164.4 78.2 Q158.7 88.8 152.9 99.3" fill="none" stroke="#e0b8de" stroke-width="1.24" stroke-linecap="round" opacity="0.9"/>
<path d="M165.6 77.8 Q158.4 91.8 151.0 105.7" fill="none" stroke="#9c48a8" stroke-width="0.8" opacity="0.6"/>
<path d="M164.4 82.2 Q158.9 93.3 153.2 104.4" fill="none" stroke="#e0b8de" stroke-width="0.91" stroke-linecap="round" opacity="0.9"/>
<path d="M165.8 81.1 Q159.7 94.1 153.5 107.0" fill="none" stroke="#9c48a8" stroke-width="0.8" opacity="0.6"/>
<path d="M165.0 84.9 Q160.3 95.4 155.5 105.9" fill="none" stroke="#e0b8de" stroke-width="1.05" stroke-linecap="round" opacity="0.9"/>
<path d="M166.0 84.5 Q161.0 96.5 155.9 108.4" fill="none" stroke="#9c48a8" stroke-width="0.8" opacity="0.6"/>
<path d="M164.8 89.2 Q161.6 97.6 158.3 105.9" fill="none" stroke="#e0b8de" stroke-width="1.14" stroke-linecap="round" opacity="0.9"/>
<path d="M166.0 87.9 Q162.1 99.0 158.1 110.1" fill="none" stroke="#9c48a8" stroke-width="0.8" opacity="0.6"/>
<path d="M165.1 92.3 Q162.3 101.0 159.5 109.7" fill="none" stroke="#e0b8de" stroke-width="1.22" stroke-linecap="round" opacity="0.9"/>
<path d="M166.0 91.3 Q163.0 101.7 160.1 112.1" fill="none" stroke="#9c48a8" stroke-width="0.8" opacity="0.6"/>
<path d="M165.7 94.0 Q163.5 103.1 161.3 112.1" fill="none" stroke="#e0b8de" stroke-width="0.99" stroke-linecap="round" opacity="0.9"/>
<path d="M166.0 94.6 Q164.0 104.3 162.0 114.0" fill="none" stroke="#9c48a8" stroke-width="0.8" opacity="0.6"/>
<path d="M165.6 99.0 Q164.5 105.8 163.4 112.6" fill="none" stroke="#e0b8de" stroke-width="0.96" stroke-linecap="round" opacity="0.9"/>
<path d="M166.0 98.0 Q165.0 107.0 164.0 116.0" fill="none" stroke="#9c48a8" stroke-width="0.8" opacity="0.6"/>
<line x1="138.8" y1="40" x2="134.3" y2="49.1" stroke="#ddb4dc" stroke-width="0.99" opacity="0.9"/>
<line x1="140.7" y1="40" x2="136.2" y2="49.9" stroke="#ddb4dc" stroke-width="0.77" opacity="0.9"/>
<line x1="144.0" y1="40" x2="139.5" y2="51.3" stroke="#ddb4dc" stroke-width="0.92" opacity="0.9"/>
<line x1="146.8" y1="40" x2="142.3" y2="52.5" stroke="#ddb4dc" stroke-width="0.80" opacity="0.9"/>
<line x1="148.5" y1="40" x2="144.0" y2="53.2" stroke="#ddb4dc" stroke-width="0.97" opacity="0.9"/>
<line x1="151.9" y1="40" x2="147.4" y2="54.6" stroke="#ddb4dc" stroke-width="0.81" opacity="0.9"/>
<line x1="154.1" y1="40" x2="149.6" y2="55.5" stroke="#ddb4dc" stroke-width="0.78" opacity="0.9"/>
<line x1="157.0" y1="40" x2="152.5" y2="56.8" stroke="#ddb4dc" stroke-width="0.69" opacity="0.9"/>
<line x1="159.0" y1="40" x2="154.5" y2="57.6" stroke="#ddb4dc" stroke-width="0.99" opacity="0.9"/>
<line x1="161.5" y1="40" x2="157.0" y2="58.7" stroke="#ddb4dc" stroke-width="0.93" opacity="0.9"/>
<line x1="164.7" y1="40" x2="160.2" y2="60.0" stroke="#ddb4dc" stroke-width="0.94" opacity="0.9"/>
<line x1="167.5" y1="40" x2="163.0" y2="61.2" stroke="#ddb4dc" stroke-width="0.63" opacity="0.9"/>
<line x1="95.5" y1="71.7" x2="90.1" y2="67.5" stroke="#e6bfe2" stroke-width="0.60" opacity="0.85"/>
<line x1="98.2" y1="70.1" x2="94.9" y2="67.6" stroke="#e6bfe2" stroke-width="0.83" opacity="0.85"/>
<line x1="101.1" y1="68.6" x2="98.0" y2="66.3" stroke="#e6bfe2" stroke-width="0.89" opacity="0.85"/>
<line x1="103.9" y1="67.1" x2="98.1" y2="62.5" stroke="#e6bfe2" stroke-width="0.85" opacity="0.85"/>
<line x1="106.8" y1="65.7" x2="102.2" y2="62.2" stroke="#e6bfe2" stroke-width="0.77" opacity="0.85"/>
<line x1="109.7" y1="64.3" x2="104.4" y2="60.1" stroke="#e6bfe2" stroke-width="0.64" opacity="0.85"/>
<line x1="112.6" y1="62.8" x2="108.7" y2="59.9" stroke="#e6bfe2" stroke-width="0.98" opacity="0.85"/>
<line x1="115.3" y1="61.2" x2="111.7" y2="58.5" stroke="#e6bfe2" stroke-width="0.70" opacity="0.85"/>
<line x1="118.0" y1="59.5" x2="112.6" y2="55.2" stroke="#e6bfe2" stroke-width="0.60" opacity="0.85"/>
<line x1="120.7" y1="57.8" x2="116.1" y2="54.2" stroke="#e6bfe2" stroke-width="1.00" opacity="0.85"/>
<line x1="123.7" y1="57.4" x2="119.8" y2="54.6" stroke="#e6bfe2" stroke-width="0.73" opacity="0.85"/>
<line x1="126.8" y1="58.2" x2="121.3" y2="53.9" stroke="#e6bfe2" stroke-width="0.70" opacity="0.85"/>
<line x1="130.0" y1="58.6" x2="125.4" y2="55.1" stroke="#e6bfe2" stroke-width="0.82" opacity="0.85"/>
<line x1="133.2" y1="58.9" x2="130.1" y2="56.7" stroke="#e6bfe2" stroke-width="0.76" opacity="0.85"/>
<circle cx="110.9" cy="41.9" r="0.75" fill="#a04aa8" opacity="0.8"/>
<circle cx="112.0" cy="54.7" r="0.61" fill="#cf88d0" opacity="0.8"/>
<circle cx="101.2" cy="53.0" r="0.52" fill="#a852b0" opacity="0.8"/>
<circle cx="97.5" cy="54.7" r="0.60" fill="#a852b0" opacity="0.8"/>
<circle cx="104.7" cy="47.2" r="0.66" fill="#a04aa8" opacity="0.8"/>
<circle cx="118.3" cy="48.1" r="0.63" fill="#a04aa8" opacity="0.8"/>
<circle cx="121.2" cy="43.8" r="0.75" fill="#e2b4e0" opacity="0.8"/>
<circle cx="91.1" cy="47.8" r="0.96" fill="#a852b0" opacity="0.8"/>
<circle cx="85.4" cy="60.8" r="0.53" fill="#a852b0" opacity="0.8"/>
<circle cx="84.0" cy="60.9" r="0.53" fill="#a852b0" opacity="0.8"/>
<circle cx="85.6" cy="53.8" r="0.87" fill="#cf88d0" opacity="0.8"/>
<circle cx="97.2" cy="46.5" r="0.87" fill="#e2b4e0" opacity="0.8"/>
<circle cx="84.4" cy="63.3" r="0.92" fill="#a852b0" opacity="0.8"/>
<circle cx="125.4" cy="55.5" r="0.50" fill="#d79bd6" opacity="0.8"/>
<circle cx="95.0" cy="52.3" r="0.78" fill="#d79bd6" opacity="0.8"/>
<circle cx="115.6" cy="53.3" r="0.91" fill="#cf88d0" opacity="0.8"/>
<circle cx="101.6" cy="41.7" r="0.60" fill="#a852b0" opacity="0.8"/>
<circle cx="106.3" cy="55.6" r="0.68" fill="#cf88d0" opacity="0.8"/>
<circle cx="121.6" cy="41.1" r="0.62" fill="#a852b0" opacity="0.8"/>
<circle cx="109.9" cy="54.2" r="0.52" fill="#a852b0" opacity="0.8"/>
<circle cx="85.7" cy="72.2" r="0.60" fill="#cf88d0" opacity="0.8"/>
<circle cx="85.7" cy="61.2" r="0.64" fill="#cf88d0" opacity="0.8"/>
<circle cx="94.3" cy="65.1" r="0.96" fill="#cf88d0" opacity="0.8"/>
<circle cx="95.8" cy="65.3" r="0.96" fill="#e2b4e0" opacity="0.8"/>
<circle cx="84.0" cy="48.2" r="0.86" fill="#a852b0" opacity="0.8"/>
<circle cx="103.0" cy="67.2" r="0.96" fill="#cf88d0" opacity="0.8"/>
<circle cx="118.0" cy="44.6" r="0.59" fill="#a852b0" opacity="0.8"/>
<circle cx="109.1" cy="51.5" r="0.73" fill="#cf88d0" opacity="0.8"/>
<circle cx="116.7" cy="60.9" r="0.60" fill="#e2b4e0" opacity="0.8"/>
<circle cx="115.4" cy="48.7" r="0.82" fill="#d79bd6" opacity="0.8"/>
<circle cx="103.7" cy="59.1" r="0.99" fill="#a04aa8" opacity="0.8"/>
<circle cx="94.4" cy="42.9" r="0.71" fill="#d79bd6" opacity="0.8"/>
<circle cx="90.4" cy="44.7" r="0.81" fill="#a852b0" opacity="0.8"/>
<circle cx="88.2" cy="69.4" r="0.64" fill="#cf88d0" opacity="0.8"/>
<circle cx="94.5" cy="48.9" r="0.60" fill="#cf88d0" opacity="0.8"/>
<circle cx="93.6" cy="48.6" r="0.64" fill="#a04aa8" opacity="0.8"/>
<circle cx="122.0" cy="46.6" r="0.70" fill="#d79bd6" opacity="0.8"/>
<circle cx="92.9" cy="68.3" r="1.00" fill="#a852b0" opacity="0.8"/>
<circle cx="87.4" cy="56.6" r="0.92" fill="#a04aa8" opacity="0.8"/>
<circle cx="122.3" cy="41.4" r="0.62" fill="#cf88d0" opacity="0.8"/>
<circle cx="85.2" cy="61.0" r="0.60" fill="#e2b4e0" opacity="0.8"/>
<circle cx="86.2" cy="57.9" r="0.72" fill="#a04aa8" opacity="0.8"/>
<circle cx="94.2" cy="67.2" r="0.55" fill="#d79bd6" opacity="0.8"/>
<circle cx="108.6" cy="61.7" r="0.52" fill="#a04aa8" opacity="0.8"/>
<circle cx="97.6" cy="41.5" r="0.52" fill="#cf88d0" opacity="0.8"/>
<circle cx="100.6" cy="53.0" r="0.66" fill="#e2b4e0" opacity="0.8"/>
<circle cx="91.7" cy="67.8" r="0.74" fill="#e2b4e0" opacity="0.8"/>
<circle cx="100.6" cy="67.9" r="0.58" fill="#e2b4e0" opacity="0.8"/>
<circle cx="106.0" cy="62.9" r="0.85" fill="#a852b0" opacity="0.8"/>
<circle cx="100.6" cy="49.9" r="0.71" fill="#cf88d0" opacity="0.8"/>
<circle cx="85.2" cy="66.1" r="0.71" fill="#cf88d0" opacity="0.8"/>
<circle cx="83.8" cy="66.8" r="0.82" fill="#cf88d0" opacity="0.8"/>
<circle cx="99.8" cy="54.2" r="0.72" fill="#d79bd6" opacity="0.8"/>
<circle cx="89.7" cy="44.0" r="0.70" fill="#d79bd6" opacity="0.8"/>
<circle cx="121.0" cy="56.1" r="0.56" fill="#a04aa8" opacity="0.8"/>
<circle cx="85.2" cy="45.0" r="0.54" fill="#a852b0" opacity="0.8"/>
<circle cx="109.8" cy="53.0" r="0.59" fill="#e2b4e0" opacity="0.8"/>
<circle cx="98.0" cy="45.7" r="0.96" fill="#a04aa8" opacity="0.8"/>
<circle cx="87.7" cy="57.2" r="0.65" fill="#a04aa8" opacity="0.8"/>
<circle cx="119.0" cy="41.5" r="0.66" fill="#a852b0" opacity="0.8"/>
<circle cx="109.1" cy="62.3" r="0.95" fill="#d79bd6" opacity="0.8"/>
<circle cx="89.9" cy="67.5" r="0.81" fill="#a04aa8" opacity="0.8"/>
<circle cx="109.4" cy="46.9" r="0.59" fill="#a852b0" opacity="0.8"/>
<circle cx="92.4" cy="54.0" r="0.58" fill="#e2b4e0" opacity="0.8"/>
<circle cx="98.4" cy="45.2" r="0.52" fill="#a04aa8" opacity="0.8"/>
<circle cx="107.2" cy="66.5" r="0.83" fill="#d79bd6" opacity="0.8"/>
<circle cx="96.9" cy="53.6" r="0.78" fill="#a852b0" opacity="0.8"/>
<circle cx="110.0" cy="50.7" r="0.65" fill="#a852b0" opacity="0.8"/>
<circle cx="93.7" cy="53.6" r="0.72" fill="#cf88d0" opacity="0.8"/>
<circle cx="101.8" cy="40.8" r="0.99" fill="#e2b4e0" opacity="0.8"/>
<circle cx="103.0" cy="55.6" r="0.89" fill="#e2b4e0" opacity="0.8"/>
<circle cx="102.7" cy="46.3" r="0.70" fill="#a852b0" opacity="0.8"/>
<circle cx="85.9" cy="52.6" r="0.55" fill="#cf88d0" opacity="0.8"/>
<circle cx="102.0" cy="57.9" r="0.52" fill="#d79bd6" opacity="0.8"/>
<circle cx="88.6" cy="72.3" r="0.89" fill="#cf88d0" opacity="0.8"/>
<circle cx="105.0" cy="41.9" r="0.95" fill="#e2b4e0" opacity="0.8"/>
<path d="M131 44 C135 49 141 52 146 54.5 C152 57 158 59.5 163 61 L163 66 C158 63 152 61.5 145 60.5 C139 60 131 59.5 124 58 C127 54 129 49 131 44 Z" fill="#cc90ce"/>
<path d="M130 40.5 C130.5 43 131.5 44.5 133 46 C137 50 141 52.5 146 55 C152 57.5 158 60 164 61.8" fill="none" stroke="#f5e8f3" stroke-width="1.3"/>
<path d="M130 40.5 C129.5 45 128 50 125.5 55 C124 57.5 122 59 120 60.3 C115 63 108 66 100.5 70.3 C97 72.3 94 74 90 77" fill="none" stroke="#f7ecf5" stroke-width="1.4"/>
<path d="M122 58.2 C127 59.3 133 59.9 145 61.3 C150 62 154.8 63.1 164 68" fill="none" stroke="#f3e4f1" stroke-width="1.4"/>
<path d="M129 41 L131.5 41 L132.5 46 L129.5 50 L127.5 52 Z" fill="#f5e8f3"/>
<path d="M157 61 C159.5 62.5 162 65 164 67.5 L164 75 C161 71 158.5 66 157 61 Z" fill="#ecd6ea"/>
<path d="M82 84 C84 88.5 87 92 91 95 C97 99 104 101.5 112 103.5 C124 106.5 134 108.5 142 110.5 L164 112 V115 H82 Z" fill="#ec7fba"/>
<path d="M82 84 C84 88.5 87 92 91 95 C97 99 104 101.5 112 103.5 C120 105.5 128 107 134 108.3" fill="none" stroke="#f8ecf4" stroke-width="0.9"/>
<path d="M82 93 C85 97.5 89.5 101 96 104.5 C103 108 112 110.5 122 113 L124 115 H82 Z" fill="#eef3ea"/>
<path d="M82 93 C85 97.5 89.5 101 96 104.5 C103 108 112 110.5 122 113" fill="none" stroke="#f4b4d6" stroke-width="1.0"/>
<path d="M107 96.5 C112 95.5 118 95.3 124 96 C130 97 136 98.5 139.5 101 C140 103.5 137 105.3 133 105.2 C127 105 120 103.5 114 102 C110 100.5 107 98.5 107 96.5 Z" fill="#edd3e6"/>
<circle cx="127.6" cy="102.5" r="0.5" fill="#e3a6cf"/>
<circle cx="110.7" cy="97.5" r="0.5" fill="#e3a6cf"/>
<circle cx="126.6" cy="101.8" r="0.5" fill="#e3a6cf"/>
<circle cx="113.0" cy="97.9" r="0.5" fill="#e3a6cf"/>
<circle cx="133.9" cy="99.0" r="0.5" fill="#e3a6cf"/>
<circle cx="131.9" cy="102.6" r="0.5" fill="#e3a6cf"/>
<circle cx="128.5" cy="102.0" r="0.5" fill="#e3a6cf"/>
<circle cx="116.0" cy="102.8" r="0.5" fill="#e3a6cf"/>
<circle cx="126.5" cy="98.8" r="0.5" fill="#e3a6cf"/>
<circle cx="118.7" cy="101.3" r="0.5" fill="#e3a6cf"/>
<circle cx="134.4" cy="100.2" r="0.5" fill="#e3a6cf"/>
<circle cx="116.9" cy="103.8" r="0.5" fill="#e3a6cf"/>
<circle cx="123.0" cy="101.1" r="0.5" fill="#e3a6cf"/>
<circle cx="126.6" cy="98.7" r="0.5" fill="#e3a6cf"/>
<circle cx="120.1" cy="98.4" r="0.5" fill="#e3a6cf"/>
<circle cx="120.9" cy="101.5" r="0.5" fill="#e3a6cf"/>
<path d="M128 107.5 C138 108.5 150 109.5 164 109 V115 H126 Z" fill="#f2a6d0"/>
</g>
<rect x="82" y="39" width="82" height="75" fill="#fff" filter="url(#nz)" opacity="0.28"/>
</g>
<rect x="82.95" y="39.75" width="79.9" height="73.5" fill="none" stroke="#000" stroke-width="1.1"/>
<rect x="140.2" y="99.6" width="19.4" height="2.9" fill="#000"/>
<text x="161.2" y="111.1" font-size="8.8" font-weight="bold" text-anchor="end" textLength="30.5" lengthAdjust="spacingAndGlyphs">210 µm</text></g>
<text x="55.5" y="127.8" font-size="11.2" font-weight="bold" font-style="italic" text-anchor="end" textLength="30" lengthAdjust="spacingAndGlyphs" stroke="#000" stroke-width="0">Il10<tspan font-size="7.616" dy="-3.6959999999999997">−/−</tspan></text>
<text x="136.5" y="127.8" font-size="11.2" font-weight="bold" font-style="italic" text-anchor="end" textLength="30" lengthAdjust="spacingAndGlyphs" stroke="#000" stroke-width="0">Il10<tspan font-size="7.616" dy="-3.6959999999999997">−/−</tspan></text>
<text x="122.5" y="142" font-size="10.6" font-weight="bold" text-anchor="middle" fill="#000" textLength="58" lengthAdjust="spacingAndGlyphs" >+ piroxicam</text>
<text x="49.8" y="183" font-size="11" font-weight="bold" text-anchor="middle" fill="#000" textLength="46.6" lengthAdjust="spacingAndGlyphs" >Histology</text>
<text x="49.5" y="197.2" font-size="11" font-weight="bold" text-anchor="middle" fill="#000" textLength="27.2" lengthAdjust="spacingAndGlyphs" >Score</text>
<line x1="25.8" y1="205.65" x2="25.8" y2="305.45" stroke="#000" stroke-width="1.3" stroke-linecap="butt"/>
<line x1="25.150000000000002" y1="304.8" x2="74.3" y2="304.8" stroke="#000" stroke-width="1.3" stroke-linecap="butt"/>
<line x1="22.2" y1="206.3" x2="25.8" y2="206.3" stroke="#000" stroke-width="1.3" stroke-linecap="butt"/>
<text x="20.7" y="209.0" font-size="7.6" font-weight="bold" text-anchor="end" fill="#000" stroke="#000" stroke-width="0.2">10</text>
<line x1="22.2" y1="255.5" x2="25.8" y2="255.5" stroke="#000" stroke-width="1.3" stroke-linecap="butt"/>
<text x="20.7" y="258.2" font-size="7.6" font-weight="bold" text-anchor="end" fill="#000" stroke="#000" stroke-width="0.2">5</text>
<line x1="22.2" y1="304.8" x2="25.8" y2="304.8" stroke="#000" stroke-width="1.3" stroke-linecap="butt"/>
<text x="20.7" y="307.5" font-size="7.6" font-weight="bold" text-anchor="end" fill="#000" stroke="#000" stroke-width="0.2">0</text>
<line x1="39" y1="304.8" x2="39" y2="308.8" stroke="#000" stroke-width="1.3" stroke-linecap="butt"/>
<line x1="61" y1="304.8" x2="61" y2="308.8" stroke="#000" stroke-width="1.3" stroke-linecap="butt"/>
<text x="10.5" y="256" font-size="10.6" font-weight="bold" text-anchor="middle" fill="#000" textLength="61" lengthAdjust="spacingAndGlyphs" transform="rotate(-90 10.5 256)" stroke="#000" stroke-width="0.25">Score (0-15)</text>
<rect x="52.5" y="275" width="17.1" height="29.8" fill="#ff0000" stroke="#000" stroke-width="1.1"/>
<line x1="61.1" y1="264.5" x2="61.1" y2="284.7" stroke="#000" stroke-width="1.0" stroke-linecap="butt"/>
<line x1="56.9" y1="264.5" x2="65.3" y2="264.5" stroke="#000" stroke-width="1.0" stroke-linecap="butt"/>
<line x1="56.9" y1="284.7" x2="65.3" y2="284.7" stroke="#000" stroke-width="1.0" stroke-linecap="butt"/>
<circle cx="32" cy="304.7" r="1.7" fill="#000"/>
<circle cx="36.7" cy="304.7" r="1.7" fill="#000"/>
<circle cx="41.3" cy="304.7" r="1.7" fill="#000"/>
<circle cx="46" cy="304.7" r="1.7" fill="#000"/>
<circle cx="61" cy="233.6" r="1.7" fill="#000"/>
<circle cx="61" cy="246.7" r="1.7" fill="#000"/>
<circle cx="61.5" cy="279.4" r="1.7" fill="#000"/>
<circle cx="54.6" cy="299.4" r="1.7" fill="#000"/>
<circle cx="61" cy="297" r="1.7" fill="#000"/>
<circle cx="68.4" cy="298.9" r="1.7" fill="#000"/>
<circle cx="61" cy="267.2" r="1.7" fill="#000"/>
<line x1="39" y1="222" x2="61" y2="222" stroke="#000" stroke-width="1.4" stroke-linecap="butt"/>
<text x="50.45" y="221.8" font-size="11.8" font-weight="bold" text-anchor="middle" letter-spacing="0.9">**</text>
<text x="45.2" y="317.1" font-size="8.2" font-weight="bold" font-style="italic" text-anchor="end" transform="rotate(-25 45.2 317.1)" textLength="20.6" lengthAdjust="spacingAndGlyphs" stroke="#000" stroke-width="0.2">Il10<tspan font-size="5.576" dy="-2.706">−/−</tspan></text>
<text x="70" y="316.8" font-size="8.2" font-weight="bold" font-style="italic" text-anchor="end" transform="rotate(-25 70 316.8)" textLength="20.6" lengthAdjust="spacingAndGlyphs" stroke="#000" stroke-width="0.2">Il10<tspan font-size="5.576" dy="-2.706">−/−</tspan></text>
<text x="82.5" y="322.1" font-size="8.2" font-weight="bold" font-style="italic" text-anchor="end" transform="rotate(-25 82.5 322.1)" textLength="39.5" lengthAdjust="spacingAndGlyphs" stroke="#000" stroke-width="0.2">+ piroxicam</text>
<text x="132.5" y="183" font-size="11" font-weight="bold" text-anchor="middle" fill="#000" textLength="28" lengthAdjust="spacingAndGlyphs" >Gross</text>
<text x="132.6" y="197.2" font-size="11" font-weight="bold" text-anchor="middle" fill="#000" textLength="50.3" lengthAdjust="spacingAndGlyphs" >Pathology</text>
<line x1="109.8" y1="206.65" x2="109.8" y2="305.34999999999997" stroke="#000" stroke-width="1.3" stroke-linecap="butt"/>
<line x1="109.14999999999999" y1="304.7" x2="157.8" y2="304.7" stroke="#000" stroke-width="1.3" stroke-linecap="butt"/>
<line x1="106.2" y1="207.3" x2="109.8" y2="207.3" stroke="#000" stroke-width="1.3" stroke-linecap="butt"/>
<text x="104.7" y="210.0" font-size="7.6" font-weight="bold" text-anchor="end" fill="#000" stroke="#000" stroke-width="0.2">10</text>
<line x1="106.2" y1="256" x2="109.8" y2="256" stroke="#000" stroke-width="1.3" stroke-linecap="butt"/>
<text x="104.7" y="258.7" font-size="7.6" font-weight="bold" text-anchor="end" fill="#000" stroke="#000" stroke-width="0.2">5</text>
<line x1="106.2" y1="304.7" x2="109.8" y2="304.7" stroke="#000" stroke-width="1.3" stroke-linecap="butt"/>
<text x="104.7" y="307.4" font-size="7.6" font-weight="bold" text-anchor="end" fill="#000" stroke="#000" stroke-width="0.2">0</text>
<line x1="123" y1="304.7" x2="123" y2="308.7" stroke="#000" stroke-width="1.3" stroke-linecap="butt"/>
<line x1="144.5" y1="304.7" x2="144.5" y2="308.7" stroke="#000" stroke-width="1.3" stroke-linecap="butt"/>
<text x="94.3" y="256.5" font-size="10.6" font-weight="bold" text-anchor="middle" fill="#000" textLength="61" lengthAdjust="spacingAndGlyphs" transform="rotate(-90 94.3 256.5)" stroke="#000" stroke-width="0.25">Score (0-22)</text>
<rect x="135.9" y="275.7" width="17.1" height="29" fill="#ff0000" stroke="#000" stroke-width="1.1"/>
<line x1="144.5" y1="265.8" x2="144.5" y2="285.3" stroke="#000" stroke-width="1.0" stroke-linecap="butt"/>
<line x1="140.3" y1="265.8" x2="148.7" y2="265.8" stroke="#000" stroke-width="1.0" stroke-linecap="butt"/>
<line x1="140.3" y1="285.3" x2="148.7" y2="285.3" stroke="#000" stroke-width="1.0" stroke-linecap="butt"/>
<circle cx="115.5" cy="304.5" r="1.7" fill="#000"/>
<circle cx="120.3" cy="304.5" r="1.7" fill="#000"/>
<circle cx="125" cy="304.5" r="1.7" fill="#000"/>
<circle cx="130" cy="304.5" r="1.7" fill="#000"/>
<circle cx="144.5" cy="227.5" r="1.7" fill="#000"/>
<circle cx="144.5" cy="260.8" r="1.7" fill="#000"/>
<circle cx="141.8" cy="275.5" r="1.7" fill="#000"/>
<circle cx="147.2" cy="275.5" r="1.7" fill="#000"/>
<circle cx="141.5" cy="295" r="1.7" fill="#000"/>
<circle cx="147.3" cy="295" r="1.7" fill="#000"/>
<circle cx="144.4" cy="300.3" r="1.7" fill="#000"/>
<line x1="123" y1="216" x2="144.5" y2="216" stroke="#000" stroke-width="1.4" stroke-linecap="butt"/>
<text x="134.14999999999998" y="215.8" font-size="11.8" font-weight="bold" text-anchor="middle" letter-spacing="0.9">**</text>
<text x="129.2" y="317.2" font-size="8.2" font-weight="bold" font-style="italic" text-anchor="end" transform="rotate(-25 129.2 317.2)" textLength="20.6" lengthAdjust="spacingAndGlyphs" stroke="#000" stroke-width="0.2">Il10<tspan font-size="5.576" dy="-2.706">−/−</tspan></text>
<text x="153.5" y="316.9" font-size="8.2" font-weight="bold" font-style="italic" text-anchor="end" transform="rotate(-25 153.5 316.9)" textLength="20.6" lengthAdjust="spacingAndGlyphs" stroke="#000" stroke-width="0.2">Il10<tspan font-size="5.576" dy="-2.706">−/−</tspan></text>
<text x="166.0" y="322.2" font-size="8.2" font-weight="bold" font-style="italic" text-anchor="end" transform="rotate(-25 166.0 322.2)" textLength="39.5" lengthAdjust="spacingAndGlyphs" stroke="#000" stroke-width="0.2">+ piroxicam</text>
<text x="187.5" y="24.5" font-size="10.6" font-weight="bold" text-anchor="start" fill="#000" textLength="30" lengthAdjust="spacingAndGlyphs" >TIC (-)</text>
<text x="183.8" y="84.7" font-size="10.6" font-weight="bold" text-anchor="middle" fill="#000" textLength="100.2" lengthAdjust="spacingAndGlyphs" transform="rotate(-90 183.8 84.7)" stroke="#000" stroke-width="0.25">Relative Abundance</text>
<polyline points="205.70,102.60 206.01,102.60 206.32,102.60 206.63,102.60 206.94,102.60 207.25,102.60 207.56,102.60 207.87,102.60 208.18,102.60 208.49,102.60 208.79,102.60 209.10,102.60 209.41,102.60 209.72,102.60 210.03,102.60 210.34,102.60 210.65,102.60 210.96,102.60 211.27,102.60 211.58,102.60 211.89,102.60 212.20,102.60 212.51,102.60 212.82,102.60 213.13,102.60 213.44,102.60 213.75,102.60 214.06,102.60 214.37,102.60 214.68,102.60 214.98,102.60 215.29,102.60 215.60,102.60 215.91,102.60 216.22,102.60 216.53,102.60 216.84,102.60 217.15,102.60 217.46,102.60 217.77,102.60 218.08,102.60 218.39,102.60 218.70,102.60 219.01,102.60 219.32,102.60 219.63,102.60 219.94,102.60 220.25,102.60 220.56,102.60 220.87,102.60 221.18,102.60 221.48,102.60 221.79,102.60 222.10,102.60 222.41,102.60 222.72,102.60 223.03,102.60 223.34,102.60 223.65,102.60 223.96,102.60 224.27,102.60 224.58,102.60 224.89,102.60 225.20,102.60 225.51,102.60 225.82,102.60 226.13,102.60 226.44,102.60 226.75,102.60 227.06,102.60 227.37,102.60 227.67,102.60 227.98,102.60 228.29,102.60 228.60,102.60 228.91,102.60 229.22,102.60 229.53,102.60 229.84,102.60 230.15,102.60 230.46,102.60 230.77,102.60 231.08,102.60 231.39,102.60 231.70,102.60 232.01,102.60 232.32,102.60 232.63,102.60 232.94,102.60 233.25,102.60 233.56,102.60 233.86,102.60 234.17,102.60 234.48,102.60 234.79,102.60 235.10,102.60 235.41,102.58 235.72,102.55 236.03,102.46 236.34,102.22 236.65,101.72 236.96,100.75 237.27,99.08 237.58,96.59 237.89,93.37 238.20,89.82 238.51,86.67 238.82,84.73 239.13,84.56 239.44,85.80 239.75,88.03 240.05,90.82 240.36,93.67 240.67,96.20 240.98,98.20 241.29,99.63 241.60,100.56 241.91,101.13 242.22,101.46 242.53,101.64 242.84,101.76 243.15,101.83 243.46,101.89 243.77,101.94 244.08,101.98 244.39,102.02 244.70,102.05 245.01,102.09 245.32,102.12 245.63,102.15 245.94,102.18 246.24,102.21 246.55,102.23 246.86,102.26 247.17,102.28 247.48,102.30 247.79,102.32 248.10,102.33 248.41,102.35 248.72,102.37 249.03,102.38 249.34,102.40 249.65,102.41 249.96,102.42 250.27,102.43 250.58,102.44 250.89,102.45 251.20,102.46 251.51,102.47 251.82,102.48 252.12,102.49 252.43,102.49 252.74,102.50 253.05,102.51 253.36,102.51 253.67,102.52 253.98,102.52 254.29,102.53 254.60,102.53 254.91,102.54 255.22,102.54 255.53,102.54 255.84,102.55 256.15,102.55 256.46,102.55 256.77,102.56 257.08,102.56 257.39,102.56 257.70,102.57 258.01,102.57 258.31,102.57 258.62,102.57 258.93,102.57 259.24,102.57 259.55,102.58 259.86,102.58 260.17,102.58 260.48,102.58 260.79,102.58 261.10,102.58 261.41,102.58 261.72,102.59 262.03,102.59 262.34,102.59 262.65,102.59 262.96,102.59 263.27,102.59 263.58,102.59 263.89,102.59 264.20,102.59 264.50,102.59 264.81,102.59 265.12,102.59 265.43,102.59 265.74,102.59 266.05,102.59 266.36,102.59 266.67,102.59 266.98,102.60 267.29,102.60 267.60,102.60" fill="none" stroke="#2f22d8" stroke-width="1.5" stroke-linejoin="round"/>
<polyline points="205.70,122.40 206.01,122.40 206.32,122.40 206.63,122.40 206.94,122.40 207.25,122.40 207.56,122.40 207.87,122.40 208.18,122.40 208.49,122.40 208.79,122.40 209.10,122.40 209.41,122.40 209.72,122.40 210.03,122.40 210.34,122.40 210.65,122.40 210.96,122.40 211.27,122.40 211.58,122.40 211.89,122.40 212.20,122.40 212.51,122.40 212.82,122.40 213.13,122.40 213.44,122.40 213.75,122.40 214.06,122.40 214.37,122.40 214.68,122.40 214.98,122.40 215.29,122.40 215.60,122.40 215.91,122.40 216.22,122.40 216.53,122.40 216.84,122.40 217.15,122.40 217.46,122.40 217.77,122.40 218.08,122.40 218.39,122.40 218.70,122.40 219.01,122.40 219.32,122.40 219.63,122.40 219.94,122.40 220.25,122.40 220.56,122.40 220.87,122.40 221.18,122.40 221.48,122.40 221.79,122.40 222.10,122.40 222.41,122.40 222.72,122.40 223.03,122.40 223.34,122.40 223.65,122.40 223.96,122.40 224.27,122.40 224.58,122.40 224.89,122.40 225.20,122.40 225.51,122.40 225.82,122.40 226.13,122.40 226.44,122.40 226.75,122.40 227.06,122.40 227.37,122.40 227.67,122.40 227.98,122.40 228.29,122.40 228.60,122.40 228.91,122.40 229.22,122.40 229.53,122.40 229.84,122.40 230.15,122.40 230.46,122.40 230.77,122.40 231.08,122.40 231.39,122.40 231.70,122.40 232.01,122.40 232.32,122.40 232.63,122.40 232.94,122.40 233.25,122.40 233.56,122.40 233.86,122.40 234.17,122.40 234.48,122.40 234.79,122.40 235.10,122.40 235.41,122.39 235.72,122.37 236.03,122.33 236.34,122.23 236.65,122.05 236.96,121.72 237.27,121.22 237.58,120.53 237.89,119.68 238.20,118.79 238.51,118.03 238.82,117.58 239.13,117.54 239.44,117.83 239.75,118.36 240.05,119.05 240.36,119.77 240.67,120.44 240.98,121.00 241.29,121.42 241.60,121.72 241.91,121.91 242.22,122.03 242.53,122.11 242.84,122.15 243.15,122.17 243.46,122.19 243.77,122.21 244.08,122.22 244.39,122.23 244.70,122.24 245.01,122.25 245.32,122.26 245.63,122.27 245.94,122.28 246.24,122.28 246.55,122.29 246.86,122.30 247.17,122.30 247.48,122.31 247.79,122.31 248.10,122.32 248.41,122.32 248.72,122.33 249.03,122.33 249.34,122.34 249.65,122.34 249.96,122.34 250.27,122.35 250.58,122.35 250.89,122.35 251.20,122.36 251.51,122.36 251.82,122.36 252.12,122.36 252.43,122.37 252.74,122.37 253.05,122.37 253.36,122.37 253.67,122.37 253.98,122.37 254.29,122.38 254.60,122.38 254.91,122.38 255.22,122.38 255.53,122.38 255.84,122.38 256.15,122.38 256.46,122.38 256.77,122.39 257.08,122.39 257.39,122.39 257.70,122.39 258.01,122.39 258.31,122.39 258.62,122.39 258.93,122.39 259.24,122.39 259.55,122.39 259.86,122.39 260.17,122.39 260.48,122.39 260.79,122.39 261.10,122.39 261.41,122.39 261.72,122.39 262.03,122.39 262.34,122.40 262.65,122.40 262.96,122.40 263.27,122.40 263.58,122.40 263.89,122.40 264.20,122.40 264.50,122.40 264.81,122.40 265.12,122.40 265.43,122.40 265.74,122.40 266.05,122.40 266.36,122.40 266.67,122.40 266.98,122.40 267.29,122.40 267.60,122.40" fill="none" stroke="#2f22d8" stroke-width="1.5" stroke-linejoin="round"/>
<polyline points="297.00,102.40 297.31,102.40 297.62,102.40 297.93,102.40 298.24,102.40 298.55,102.40 298.85,102.40 299.16,102.40 299.47,102.40 299.78,102.40 300.09,102.40 300.40,102.40 300.71,102.40 301.02,102.40 301.33,102.40 301.63,102.40 301.94,102.40 302.25,102.40 302.56,102.40 302.87,102.40 303.18,102.40 303.49,102.40 303.80,102.40 304.11,102.40 304.42,102.40 304.73,102.40 305.03,102.40 305.34,102.40 305.65,102.40 305.96,102.40 306.27,102.40 306.58,102.40 306.89,102.40 307.20,102.40 307.51,102.40 307.81,102.40 308.12,102.40 308.43,102.40 308.74,102.40 309.05,102.40 309.36,102.40 309.67,102.40 309.98,102.40 310.29,102.40 310.60,102.40 310.91,102.40 311.21,102.40 311.52,102.40 311.83,102.40 312.14,102.40 312.45,102.40 312.76,102.40 313.07,102.40 313.38,102.40 313.69,102.40 314.00,102.40 314.30,102.40 314.61,102.40 314.92,102.40 315.23,102.40 315.54,102.40 315.85,102.40 316.16,102.40 316.47,102.40 316.78,102.40 317.08,102.40 317.39,102.40 317.70,102.40 318.01,102.40 318.32,102.40 318.63,102.39 318.94,102.37 319.25,102.29 319.56,102.07 319.87,101.50 320.18,100.16 320.48,97.39 320.79,92.31 321.10,84.12 321.41,72.58 321.72,58.59 322.03,44.44 322.34,33.35 322.65,28.31 322.96,30.92 323.26,37.94 323.57,47.83 323.88,58.89 324.19,69.46 324.50,78.43 324.81,85.30 325.12,90.13 325.43,93.30 325.74,95.29 326.05,96.55 326.36,97.36 326.66,97.95 326.97,98.40 327.28,98.78 327.59,99.12 327.90,99.42 328.21,99.69 328.52,99.94 328.83,100.16 329.14,100.36 329.44,100.55 329.75,100.72 330.06,100.87 330.37,101.01 330.68,101.14 330.99,101.25 331.30,101.36 331.61,101.45 331.92,101.54 332.23,101.62 332.54,101.69 332.84,101.75 333.15,101.81 333.46,101.86 333.77,101.91 334.08,101.96 334.39,102.00 334.70,102.03 335.01,102.07 335.32,102.10 335.62,102.13 335.93,102.15 336.24,102.17 336.55,102.19 336.86,102.21 337.17,102.23 337.48,102.24 337.79,102.26 338.10,102.27 338.41,102.28 338.72,102.29 339.02,102.30 339.33,102.31 339.64,102.32 339.95,102.33 340.26,102.33 340.57,102.34 340.88,102.35 341.19,102.35 341.50,102.36 341.81,102.36 342.11,102.36 342.42,102.37 342.73,102.37 343.04,102.37 343.35,102.37 343.66,102.38 343.97,102.38 344.28,102.38 344.59,102.38 344.89,102.38 345.20,102.39 345.51,102.39 345.82,102.39 346.13,102.39 346.44,102.39 346.75,102.39 347.06,102.39 347.37,102.39 347.68,102.39 347.99,102.39 348.29,102.39 348.60,102.39 348.91,102.40 349.22,102.40 349.53,102.40 349.84,102.40 350.15,102.40 350.46,102.40 350.77,102.40 351.07,102.40 351.38,102.40 351.69,102.40 352.00,102.40 352.31,102.40 352.62,102.40 352.93,102.40 353.24,102.40 353.55,102.40 353.86,102.40 354.17,102.40 354.47,102.40 354.78,102.40 355.09,102.40 355.40,102.40 355.71,102.40 356.02,102.40 356.33,102.40 356.64,102.40 356.95,102.40 357.25,102.40 357.56,102.40 357.87,102.40 358.18,102.40 358.49,102.40 358.80,102.40" fill="none" stroke="#cf621c" stroke-width="1.5" stroke-linejoin="round"/>
<polyline points="297.00,122.30 297.31,122.30 297.62,122.30 297.93,122.30 298.24,122.30 298.55,122.30 298.85,122.30 299.16,122.30 299.47,122.30 299.78,122.30 300.09,122.30 300.40,122.30 300.71,122.30 301.02,122.30 301.33,122.30 301.63,122.30 301.94,122.30 302.25,122.30 302.56,122.30 302.87,122.30 303.18,122.30 303.49,122.30 303.80,122.30 304.11,122.30 304.42,122.30 304.73,122.30 305.03,122.30 305.34,122.30 305.65,122.30 305.96,122.30 306.27,122.30 306.58,122.30 306.89,122.30 307.20,122.30 307.51,122.30 307.81,122.30 308.12,122.30 308.43,122.30 308.74,122.30 309.05,122.30 309.36,122.30 309.67,122.30 309.98,122.30 310.29,122.30 310.60,122.30 310.91,122.30 311.21,122.30 311.52,122.30 311.83,122.30 312.14,122.30 312.45,122.30 312.76,122.30 313.07,122.30 313.38,122.30 313.69,122.30 314.00,122.30 314.30,122.30 314.61,122.30 314.92,122.30 315.23,122.30 315.54,122.30 315.85,122.30 316.16,122.30 316.47,122.30 316.78,122.30 317.08,122.30 317.39,122.30 317.70,122.30 318.01,122.30 318.32,122.30 318.63,122.30 318.94,122.29 319.25,122.27 319.56,122.20 319.87,122.02 320.18,121.61 320.48,120.76 320.79,119.20 321.10,116.68 321.41,113.14 321.72,108.84 322.03,104.49 322.34,101.08 322.65,99.54 322.96,100.39 323.26,102.53 323.57,105.49 323.88,108.78 324.19,111.91 324.50,114.58 324.81,116.63 325.12,118.09 325.43,119.06 325.74,119.70 326.05,120.11 326.36,120.39 326.66,120.60 326.97,120.77 327.28,120.91 327.59,121.04 327.90,121.15 328.21,121.26 328.52,121.35 328.83,121.44 329.14,121.52 329.44,121.59 329.75,121.65 330.06,121.71 330.37,121.77 330.68,121.81 330.99,121.86 331.30,121.90 331.61,121.94 331.92,121.97 332.23,122.00 332.54,122.03 332.84,122.05 333.15,122.07 333.46,122.09 333.77,122.11 334.08,122.13 334.39,122.15 334.70,122.16 335.01,122.17 335.32,122.18 335.62,122.19 335.93,122.20 336.24,122.21 336.55,122.22 336.86,122.23 337.17,122.23 337.48,122.24 337.79,122.25 338.10,122.25 338.41,122.26 338.72,122.26 339.02,122.26 339.33,122.27 339.64,122.27 339.95,122.27 340.26,122.27 340.57,122.28 340.88,122.28 341.19,122.28 341.50,122.28 341.81,122.28 342.11,122.29 342.42,122.29 342.73,122.29 343.04,122.29 343.35,122.29 343.66,122.29 343.97,122.29 344.28,122.29 344.59,122.29 344.89,122.29 345.20,122.29 345.51,122.30 345.82,122.30 346.13,122.30 346.44,122.30 346.75,122.30 347.06,122.30 347.37,122.30 347.68,122.30 347.99,122.30 348.29,122.30 348.60,122.30 348.91,122.30 349.22,122.30 349.53,122.30 349.84,122.30 350.15,122.30 350.46,122.30 350.77,122.30 351.07,122.30 351.38,122.30 351.69,122.30 352.00,122.30 352.31,122.30 352.62,122.30 352.93,122.30 353.24,122.30 353.55,122.30 353.86,122.30 354.17,122.30 354.47,122.30 354.78,122.30 355.09,122.30 355.40,122.30 355.71,122.30 356.02,122.30 356.33,122.30 356.64,122.30 356.95,122.30 357.25,122.30 357.56,122.30 357.87,122.30 358.18,122.30 358.49,122.30 358.80,122.30" fill="none" stroke="#cf621c" stroke-width="1.5" stroke-linejoin="round"/>
<line x1="205.1" y1="40.65" x2="205.1" y2="124.60000000000001" stroke="#000" stroke-width="1.4" stroke-linecap="butt"/>
<line x1="201.5" y1="41.3" x2="205.1" y2="41.3" stroke="#000" stroke-width="1.3" stroke-linecap="butt"/>
<text x="200.5" y="44.0" font-size="7.6" font-weight="bold" text-anchor="end" fill="#000" stroke="#000" stroke-width="0.2">100</text>
<line x1="201.5" y1="81.5" x2="205.1" y2="81.5" stroke="#000" stroke-width="1.3" stroke-linecap="butt"/>
<text x="200.5" y="84.2" font-size="7.6" font-weight="bold" text-anchor="end" fill="#000" stroke="#000" stroke-width="0.2">50</text>
<line x1="201.5" y1="121.7" x2="205.1" y2="121.7" stroke="#000" stroke-width="1.3" stroke-linecap="butt"/>
<text x="200.5" y="124.4" font-size="7.6" font-weight="bold" text-anchor="end" fill="#000" stroke="#000" stroke-width="0.2">0</text>
<line x1="204.4" y1="123.85000000000001" x2="267.6" y2="123.85000000000001" stroke="#000" stroke-width="1.5" stroke-linecap="butt"/>
<line x1="206.8" y1="123.85000000000001" x2="206.8" y2="128.05" stroke="#000" stroke-width="1.3" stroke-linecap="butt"/>
<text x="207.10000000000002" y="136.15" font-size="7.6" font-weight="bold" text-anchor="middle" fill="#000" stroke="#000" stroke-width="0.2">6.0</text>
<line x1="225.7" y1="123.85000000000001" x2="225.7" y2="128.05" stroke="#000" stroke-width="1.3" stroke-linecap="butt"/>
<text x="226.0" y="136.15" font-size="7.6" font-weight="bold" text-anchor="middle" fill="#000" stroke="#000" stroke-width="0.2">7.0</text>
<line x1="244.6" y1="123.85000000000001" x2="244.6" y2="128.05" stroke="#000" stroke-width="1.3" stroke-linecap="butt"/>
<text x="244.9" y="136.15" font-size="7.6" font-weight="bold" text-anchor="middle" fill="#000" stroke="#000" stroke-width="0.2">8.0</text>
<line x1="263.6" y1="123.85000000000001" x2="263.6" y2="128.05" stroke="#000" stroke-width="1.3" stroke-linecap="butt"/>
<text x="263.90000000000003" y="136.15" font-size="7.6" font-weight="bold" text-anchor="middle" fill="#000" stroke="#000" stroke-width="0.2">9.0</text>
<line x1="296.4" y1="40.65" x2="296.4" y2="124.60000000000001" stroke="#000" stroke-width="1.4" stroke-linecap="butt"/>
<line x1="292.79999999999995" y1="41.3" x2="296.4" y2="41.3" stroke="#000" stroke-width="1.3" stroke-linecap="butt"/>
<text x="291.79999999999995" y="44.0" font-size="7.6" font-weight="bold" text-anchor="end" fill="#000" stroke="#000" stroke-width="0.2">100</text>
<line x1="292.79999999999995" y1="81.5" x2="296.4" y2="81.5" stroke="#000" stroke-width="1.3" stroke-linecap="butt"/>
<text x="291.79999999999995" y="84.2" font-size="7.6" font-weight="bold" text-anchor="end" fill="#000" stroke="#000" stroke-width="0.2">50</text>
<line x1="292.79999999999995" y1="121.7" x2="296.4" y2="121.7" stroke="#000" stroke-width="1.3" stroke-linecap="butt"/>
<text x="291.79999999999995" y="124.4" font-size="7.6" font-weight="bold" text-anchor="end" fill="#000" stroke="#000" stroke-width="0.2">0</text>
<line x1="295.7" y1="123.85000000000001" x2="358.8" y2="123.85000000000001" stroke="#000" stroke-width="1.5" stroke-linecap="butt"/>
<line x1="298" y1="123.85000000000001" x2="298" y2="128.05" stroke="#000" stroke-width="1.3" stroke-linecap="butt"/>
<text x="298.3" y="136.15" font-size="7.6" font-weight="bold" text-anchor="middle" fill="#000" stroke="#000" stroke-width="0.2">6.0</text>
<line x1="317" y1="123.85000000000001" x2="317" y2="128.05" stroke="#000" stroke-width="1.3" stroke-linecap="butt"/>
<text x="317.3" y="136.15" font-size="7.6" font-weight="bold" text-anchor="middle" fill="#000" stroke="#000" stroke-width="0.2">7.0</text>
<line x1="336" y1="123.85000000000001" x2="336" y2="128.05" stroke="#000" stroke-width="1.3" stroke-linecap="butt"/>
<text x="336.3" y="136.15" font-size="7.6" font-weight="bold" text-anchor="middle" fill="#000" stroke="#000" stroke-width="0.2">8.0</text>
<line x1="355" y1="123.85000000000001" x2="355" y2="128.05" stroke="#000" stroke-width="1.3" stroke-linecap="butt"/>
<text x="355.3" y="136.15" font-size="7.6" font-weight="bold" text-anchor="middle" fill="#000" stroke="#000" stroke-width="0.2">9.0</text>
<text x="238.9" y="77.2" font-size="11.2" font-weight="bold" text-anchor="middle" fill="#000" textLength="27.5" lengthAdjust="spacingAndGlyphs" >SoL A</text>
<text x="325.1" y="23" font-size="11.2" font-weight="bold" text-anchor="middle" fill="#000" textLength="27.5" lengthAdjust="spacingAndGlyphs" >SoL B</text>
<text x="248.8" y="98.7" font-size="7.4" font-weight="bold" font-style="italic" text-anchor="start" textLength="20" lengthAdjust="spacingAndGlyphs" stroke="#000" stroke-width="0">Il10<tspan font-size="5.032000000000001" dy="-2.442">−/−</tspan></text>
<text x="248.20000000000002" y="113.1" font-size="7.4" font-weight="bold" font-style="italic" text-anchor="start" textLength="20" lengthAdjust="spacingAndGlyphs" stroke="#000" stroke-width="0">Il10<tspan font-size="5.032000000000001" dy="-2.442">−/−</tspan></text>
<text x="248.4" y="119.4" font-size="7.4" font-weight="bold" text-anchor="start" fill="#000" font-style="italic" textLength="39" lengthAdjust="spacingAndGlyphs" >+ piroxicam</text>
<text x="343.5" y="98.7" font-size="7.4" font-weight="bold" font-style="italic" text-anchor="start" textLength="20" lengthAdjust="spacingAndGlyphs" stroke="#000" stroke-width="0">Il10<tspan font-size="5.032000000000001" dy="-2.442">−/−</tspan></text>
<text x="342.9" y="113.1" font-size="7.4" font-weight="bold" font-style="italic" text-anchor="start" textLength="20" lengthAdjust="spacingAndGlyphs" stroke="#000" stroke-width="0">Il10<tspan font-size="5.032000000000001" dy="-2.442">−/−</tspan></text>
<text x="343.1" y="119.4" font-size="7.4" font-weight="bold" text-anchor="start" fill="#000" font-style="italic" textLength="39" lengthAdjust="spacingAndGlyphs" >+ piroxicam</text>
<text x="284.2" y="154.1" font-size="10.8" font-weight="bold" text-anchor="middle" fill="#000" textLength="54.8" lengthAdjust="spacingAndGlyphs" >Time (min)</text>
<text x="187.7" y="199.8" font-size="11.2" font-weight="bold" text-anchor="start" fill="#000" textLength="38" lengthAdjust="spacingAndGlyphs" >MS/MS</text>
<text x="184" y="260" font-size="10.6" font-weight="bold" text-anchor="middle" fill="#000" textLength="107" lengthAdjust="spacingAndGlyphs" transform="rotate(-90 184 260)" stroke="#000" stroke-width="0.25">Relative Intensity (%)</text>
<line x1="205.1" y1="216.15" x2="205.1" y2="300.3" stroke="#000" stroke-width="1.4" stroke-linecap="butt"/>
<line x1="201.5" y1="216.8" x2="205.1" y2="216.8" stroke="#000" stroke-width="1.3" stroke-linecap="butt"/>
<text x="200.5" y="219.5" font-size="7.6" font-weight="bold" text-anchor="end" fill="#000" stroke="#000" stroke-width="0.2">100</text>
<line x1="201.5" y1="258.20000000000005" x2="205.1" y2="258.20000000000005" stroke="#000" stroke-width="1.3" stroke-linecap="butt"/>
<text x="200.5" y="260.90000000000003" font-size="7.6" font-weight="bold" text-anchor="end" fill="#000" stroke="#000" stroke-width="0.2">50</text>
<line x1="201.5" y1="299.6" x2="205.1" y2="299.6" stroke="#000" stroke-width="1.3" stroke-linecap="butt"/>
<text x="200.5" y="302.3" font-size="7.6" font-weight="bold" text-anchor="end" fill="#000" stroke="#000" stroke-width="0.2">0</text>
<line x1="204.4" y1="299.6" x2="277.2" y2="299.6" stroke="#000" stroke-width="1.4" stroke-linecap="butt"/>
<line x1="212.4" y1="299.6" x2="212.4" y2="303.6" stroke="#000" stroke-width="1.3" stroke-linecap="butt"/>
<text x="212.8" y="311.40000000000003" font-size="7.6" font-weight="bold" text-anchor="middle" fill="#000" stroke="#000" stroke-width="0.2">100</text>
<line x1="222.8" y1="299.6" x2="222.8" y2="303.6" stroke="#000" stroke-width="1.3" stroke-linecap="butt"/>
<line x1="233.20000000000002" y1="299.6" x2="233.20000000000002" y2="303.6" stroke="#000" stroke-width="1.3" stroke-linecap="butt"/>
<text x="233.60000000000002" y="311.40000000000003" font-size="7.6" font-weight="bold" text-anchor="middle" fill="#000" stroke="#000" stroke-width="0.2">300</text>
<line x1="243.60000000000002" y1="299.6" x2="243.60000000000002" y2="303.6" stroke="#000" stroke-width="1.3" stroke-linecap="butt"/>
<line x1="254.0" y1="299.6" x2="254.0" y2="303.6" stroke="#000" stroke-width="1.3" stroke-linecap="butt"/>
<text x="254.4" y="311.40000000000003" font-size="7.6" font-weight="bold" text-anchor="middle" fill="#000" stroke="#000" stroke-width="0.2">500</text>
<line x1="264.4" y1="299.6" x2="264.4" y2="303.6" stroke="#000" stroke-width="1.3" stroke-linecap="butt"/>
<line x1="274.8" y1="299.6" x2="274.8" y2="303.6" stroke="#000" stroke-width="1.3" stroke-linecap="butt"/>
<text x="275.2" y="311.40000000000003" font-size="7.6" font-weight="bold" text-anchor="middle" fill="#000" stroke="#000" stroke-width="0.2">700</text>
<line x1="304.5" y1="216.15" x2="304.5" y2="300.3" stroke="#000" stroke-width="1.4" stroke-linecap="butt"/>
<line x1="300.9" y1="216.8" x2="304.5" y2="216.8" stroke="#000" stroke-width="1.3" stroke-linecap="butt"/>
<text x="299.9" y="219.5" font-size="7.6" font-weight="bold" text-anchor="end" fill="#000" stroke="#000" stroke-width="0.2">100</text>
<line x1="300.9" y1="258.20000000000005" x2="304.5" y2="258.20000000000005" stroke="#000" stroke-width="1.3" stroke-linecap="butt"/>
<text x="299.9" y="260.90000000000003" font-size="7.6" font-weight="bold" text-anchor="end" fill="#000" stroke="#000" stroke-width="0.2">50</text>
<line x1="300.9" y1="299.6" x2="304.5" y2="299.6" stroke="#000" stroke-width="1.3" stroke-linecap="butt"/>
<text x="299.9" y="302.3" font-size="7.6" font-weight="bold" text-anchor="end" fill="#000" stroke="#000" stroke-width="0.2">0</text>
<line x1="303.8" y1="299.6" x2="377" y2="299.6" stroke="#000" stroke-width="1.4" stroke-linecap="butt"/>
<line x1="311.7" y1="299.6" x2="311.7" y2="303.6" stroke="#000" stroke-width="1.3" stroke-linecap="butt"/>
<text x="312.09999999999997" y="311.40000000000003" font-size="7.6" font-weight="bold" text-anchor="middle" fill="#000" stroke="#000" stroke-width="0.2">100</text>
<line x1="322.1" y1="299.6" x2="322.1" y2="303.6" stroke="#000" stroke-width="1.3" stroke-linecap="butt"/>
<line x1="332.5" y1="299.6" x2="332.5" y2="303.6" stroke="#000" stroke-width="1.3" stroke-linecap="butt"/>
<text x="332.9" y="311.40000000000003" font-size="7.6" font-weight="bold" text-anchor="middle" fill="#000" stroke="#000" stroke-width="0.2">300</text>
<line x1="342.9" y1="299.6" x2="342.9" y2="303.6" stroke="#000" stroke-width="1.3" stroke-linecap="butt"/>
<line x1="353.3" y1="299.6" x2="353.3" y2="303.6" stroke="#000" stroke-width="1.3" stroke-linecap="butt"/>
<text x="353.7" y="311.40000000000003" font-size="7.6" font-weight="bold" text-anchor="middle" fill="#000" stroke="#000" stroke-width="0.2">500</text>
<line x1="363.70000000000005" y1="299.6" x2="363.70000000000005" y2="303.6" stroke="#000" stroke-width="1.3" stroke-linecap="butt"/>
<line x1="374.1" y1="299.6" x2="374.1" y2="303.6" stroke="#000" stroke-width="1.3" stroke-linecap="butt"/>
<text x="374.5" y="311.40000000000003" font-size="7.6" font-weight="bold" text-anchor="middle" fill="#000" stroke="#000" stroke-width="0.2">700</text>
<line x1="211.2" y1="299.6" x2="211.2" y2="297.6" stroke="#2f22d8" stroke-width="1.8" stroke-linecap="butt"/>
<line x1="237.6" y1="299.6" x2="237.6" y2="294.3" stroke="#2f22d8" stroke-width="1.8" stroke-linecap="butt"/>
<line x1="239.05" y1="299.6" x2="239.05" y2="219.8" stroke="#2f22d8" stroke-width="1.8" stroke-linecap="butt"/>
<line x1="243.6" y1="299.6" x2="243.6" y2="280.3" stroke="#2f22d8" stroke-width="1.8" stroke-linecap="butt"/>
<line x1="264.9" y1="299.6" x2="264.9" y2="296" stroke="#2f22d8" stroke-width="1.8" stroke-linecap="butt"/>
<line x1="267" y1="299.6" x2="267" y2="255.6" stroke="#2f22d8" stroke-width="1.8" stroke-linecap="butt"/>
<text x="239.2" y="216.8" font-size="7.5" font-weight="bold" text-anchor="middle" fill="#000" textLength="30.4" lengthAdjust="spacingAndGlyphs" stroke="#000" stroke-width="0.22">350.2353</text>
<text x="221.5" y="292.7" font-size="7.5" font-weight="bold" text-anchor="middle" fill="#000" textLength="26.9" lengthAdjust="spacingAndGlyphs" stroke="#000" stroke-width="0.22">80.9638</text>
<text x="267.5" y="242.3" font-size="11.2" font-weight="bold" text-anchor="middle" fill="#000" textLength="27.5" lengthAdjust="spacingAndGlyphs" >SoL A</text>
<text x="266.5" y="253.5" font-size="7.5" font-weight="bold" text-anchor="middle" fill="#000" textLength="30.4" lengthAdjust="spacingAndGlyphs" stroke="#000" stroke-width="0.22">618.4738</text>
<line x1="310.2" y1="299.6" x2="310.2" y2="294.7" stroke="#cf621c" stroke-width="1.8" stroke-linecap="butt"/>
<line x1="336.1" y1="299.6" x2="336.1" y2="288" stroke="#cf621c" stroke-width="1.8" stroke-linecap="butt"/>
<line x1="338" y1="299.6" x2="338" y2="294" stroke="#cf621c" stroke-width="1.8" stroke-linecap="butt"/>
<line x1="361.1" y1="299.6" x2="361.1" y2="218.6" stroke="#cf621c" stroke-width="1.8" stroke-linecap="butt"/>
<text x="361.5" y="205.5" font-size="11.2" font-weight="bold" text-anchor="middle" fill="#000" textLength="27.5" lengthAdjust="spacingAndGlyphs" >SoL B</text>
<text x="361.5" y="215" font-size="7.5" font-weight="bold" text-anchor="middle" fill="#000" textLength="30.4" lengthAdjust="spacingAndGlyphs" stroke="#000" stroke-width="0.22">574.4475</text>
<text x="320.5" y="270.5" font-size="7.5" font-weight="bold" text-anchor="middle" fill="#000" textLength="26.9" lengthAdjust="spacingAndGlyphs" stroke="#000" stroke-width="0.22">80.9638</text>
<text x="336.5" y="284.8" font-size="7.5" font-weight="bold" text-anchor="middle" fill="#000" textLength="30.5" lengthAdjust="spacingAndGlyphs" stroke="#000" stroke-width="0.22">333.2088</text>
<line x1="310.2" y1="273.6" x2="310.2" y2="289" stroke="#000" stroke-width="1.0" stroke-linecap="butt"/>
<path d="M307.5 287 L310.2 292 L312.9 287 Z" fill="#000"/>
<text x="284.3" y="330.1" font-size="11.2" font-weight="bold" text-anchor="middle" fill="#000" font-style="italic" textLength="19.6" lengthAdjust="spacingAndGlyphs" >m/z</text>
<text x="447.4" y="30.5" font-size="10.8" font-weight="bold" text-anchor="middle" fill="#000" textLength="69" lengthAdjust="spacingAndGlyphs" >SoL A in feces</text>
<line x1="417.5" y1="37.85" x2="417.5" y2="131.95000000000002" stroke="#000" stroke-width="1.3" stroke-linecap="butt"/>
<line x1="416.85" y1="131.3" x2="479.7" y2="131.3" stroke="#000" stroke-width="1.3" stroke-linecap="butt"/>
<line x1="413.9" y1="38.5" x2="417.5" y2="38.5" stroke="#000" stroke-width="1.3" stroke-linecap="butt"/>
<text x="412.4" y="41.2" font-size="7.6" font-weight="bold" text-anchor="end" fill="#000" stroke="#000" stroke-width="0.2">12</text>
<line x1="413.9" y1="69.5" x2="417.5" y2="69.5" stroke="#000" stroke-width="1.3" stroke-linecap="butt"/>
<text x="412.4" y="72.2" font-size="7.6" font-weight="bold" text-anchor="end" fill="#000" stroke="#000" stroke-width="0.2">8</text>
<line x1="413.9" y1="100.3" x2="417.5" y2="100.3" stroke="#000" stroke-width="1.3" stroke-linecap="butt"/>
<text x="412.4" y="103.0" font-size="7.6" font-weight="bold" text-anchor="end" fill="#000" stroke="#000" stroke-width="0.2">4</text>
<line x1="413.9" y1="131.3" x2="417.5" y2="131.3" stroke="#000" stroke-width="1.3" stroke-linecap="butt"/>
<text x="412.4" y="134.0" font-size="7.6" font-weight="bold" text-anchor="end" fill="#000" stroke="#000" stroke-width="0.2">0</text>
<line x1="435.4" y1="131.3" x2="435.4" y2="135.3" stroke="#000" stroke-width="1.3" stroke-linecap="butt"/>
<line x1="462.2" y1="131.3" x2="462.2" y2="135.3" stroke="#000" stroke-width="1.3" stroke-linecap="butt"/>
<text x="400.8" y="81.7" font-size="10.6" font-weight="bold" text-anchor="middle" fill="#000" textLength="83" lengthAdjust="spacingAndGlyphs" transform="rotate(-90 400.8 81.7)" stroke="#000" stroke-width="0.25">Peak Area (x10<tspan font-size="6.5" dy="-3.5">3</tspan><tspan dy="3.5">)</tspan></text>
<rect x="424.3" y="71.7" width="22.19999999999999" height="59.60000000000001" fill="#00c000" stroke="#000" stroke-width="1.35"/>
<line x1="435.4" y1="56.2" x2="435.4" y2="85.2" stroke="#000" stroke-width="0.75" stroke-linecap="butt"/>
<line x1="429.59999999999997" y1="56.2" x2="441.2" y2="56.2" stroke="#000" stroke-width="0.75" stroke-linecap="butt"/>
<line x1="429.59999999999997" y1="85.2" x2="441.2" y2="85.2" stroke="#000" stroke-width="0.75" stroke-linecap="butt"/>
<circle cx="432.3" cy="59.2" r="1.7" fill="#000"/>
<circle cx="438.5" cy="58" r="1.7" fill="#000"/>
<circle cx="435.3" cy="80.5" r="1.7" fill="#000"/>
<circle cx="435.3" cy="85" r="1.7" fill="#000"/>
<rect x="450.7" y="108.3" width="23.100000000000023" height="23.000000000000014" fill="#ff0000" stroke="#000" stroke-width="1.35"/>
<line x1="462.2" y1="104" x2="462.2" y2="110.3" stroke="#000" stroke-width="0.75" stroke-linecap="butt"/>
<line x1="456.4" y1="104" x2="468.0" y2="104" stroke="#000" stroke-width="0.75" stroke-linecap="butt"/>
<line x1="456.4" y1="110.3" x2="468.0" y2="110.3" stroke="#000" stroke-width="0.75" stroke-linecap="butt"/>
<circle cx="453.6" cy="107.7" r="1.7" fill="#000"/>
<circle cx="459" cy="107.9" r="1.7" fill="#000"/>
<circle cx="464.6" cy="108" r="1.7" fill="#000"/>
<circle cx="470" cy="108" r="1.7" fill="#000"/>
<circle cx="472.3" cy="107" r="1.7" fill="#000"/>
<circle cx="462.5" cy="103.2" r="1.7" fill="#000"/>
<line x1="435.3" y1="45.6" x2="462" y2="45.6" stroke="#000" stroke-width="1.4" stroke-linecap="butt"/>
<text x="449.09999999999997" y="45.4" font-size="11.8" font-weight="bold" text-anchor="middle" letter-spacing="0.9">****</text>
<text x="446.0" y="143.5" font-size="8.2" font-weight="bold" font-style="italic" text-anchor="end" transform="rotate(-25 446.0 143.5)" textLength="20.6" lengthAdjust="spacingAndGlyphs" stroke="#000" stroke-width="0.2">Il10<tspan font-size="5.576" dy="-2.706">−/−</tspan></text>
<text x="471.59999999999997" y="142.70000000000002" font-size="8.2" font-weight="bold" font-style="italic" text-anchor="end" transform="rotate(-25 471.59999999999997 142.70000000000002)" textLength="20.6" lengthAdjust="spacingAndGlyphs" stroke="#000" stroke-width="0.2">Il10<tspan font-size="5.576" dy="-2.706">−/−</tspan></text>
<text x="485.5" y="147.3" font-size="8.2" font-weight="bold" font-style="italic" text-anchor="end" transform="rotate(-25 485.5 147.3)" textLength="39.5" lengthAdjust="spacingAndGlyphs" stroke="#000" stroke-width="0.2">+ piroxicam</text>
<text x="447.4" y="195.5" font-size="10.8" font-weight="bold" text-anchor="middle" fill="#000" textLength="69" lengthAdjust="spacingAndGlyphs" >SoL B in feces</text>
<line x1="417.8" y1="211.04999999999998" x2="417.8" y2="304.95" stroke="#000" stroke-width="1.3" stroke-linecap="butt"/>
<line x1="417.15000000000003" y1="304.3" x2="479.7" y2="304.3" stroke="#000" stroke-width="1.3" stroke-linecap="butt"/>
<line x1="414.2" y1="211.7" x2="417.8" y2="211.7" stroke="#000" stroke-width="1.3" stroke-linecap="butt"/>
<text x="412.7" y="214.39999999999998" font-size="7.6" font-weight="bold" text-anchor="end" fill="#000" stroke="#000" stroke-width="0.2">20</text>
<line x1="414.2" y1="235.1" x2="417.8" y2="235.1" stroke="#000" stroke-width="1.3" stroke-linecap="butt"/>
<text x="412.7" y="237.79999999999998" font-size="7.6" font-weight="bold" text-anchor="end" fill="#000" stroke="#000" stroke-width="0.2">15</text>
<line x1="414.2" y1="258.3" x2="417.8" y2="258.3" stroke="#000" stroke-width="1.3" stroke-linecap="butt"/>
<text x="412.7" y="261.0" font-size="7.6" font-weight="bold" text-anchor="end" fill="#000" stroke="#000" stroke-width="0.2">10</text>
<line x1="414.2" y1="281.3" x2="417.8" y2="281.3" stroke="#000" stroke-width="1.3" stroke-linecap="butt"/>
<text x="412.7" y="284.0" font-size="7.6" font-weight="bold" text-anchor="end" fill="#000" stroke="#000" stroke-width="0.2">5</text>
<line x1="414.2" y1="304.3" x2="417.8" y2="304.3" stroke="#000" stroke-width="1.3" stroke-linecap="butt"/>
<text x="412.7" y="307.0" font-size="7.6" font-weight="bold" text-anchor="end" fill="#000" stroke="#000" stroke-width="0.2">0</text>
<line x1="435.6" y1="304.3" x2="435.6" y2="308.3" stroke="#000" stroke-width="1.3" stroke-linecap="butt"/>
<line x1="462.5" y1="304.3" x2="462.5" y2="308.3" stroke="#000" stroke-width="1.3" stroke-linecap="butt"/>
<text x="400.8" y="254.7" font-size="10.6" font-weight="bold" text-anchor="middle" fill="#000" textLength="83" lengthAdjust="spacingAndGlyphs" transform="rotate(-90 400.8 254.7)" stroke="#000" stroke-width="0.25">Peak Area (x10<tspan font-size="6.5" dy="-3.5">3</tspan><tspan dy="3.5">)</tspan></text>
<rect x="424.6" y="246.4" width="22.19999999999999" height="57.900000000000006" fill="#00c000" stroke="#000" stroke-width="1.35"/>
<line x1="435.6" y1="228" x2="435.6" y2="263.4" stroke="#000" stroke-width="0.75" stroke-linecap="butt"/>
<line x1="429.8" y1="228" x2="441.40000000000003" y2="228" stroke="#000" stroke-width="0.75" stroke-linecap="butt"/>
<line x1="429.8" y1="263.4" x2="441.40000000000003" y2="263.4" stroke="#000" stroke-width="0.75" stroke-linecap="butt"/>
<circle cx="435.5" cy="225" r="1.7" fill="#000"/>
<circle cx="435.5" cy="238" r="1.7" fill="#000"/>
<circle cx="432.3" cy="260.8" r="1.7" fill="#000"/>
<circle cx="438.8" cy="259.3" r="1.7" fill="#000"/>
<rect x="451.3" y="267" width="22.5" height="37.30000000000001" fill="#ff0000" stroke="#000" stroke-width="1.35"/>
<line x1="462.5" y1="261" x2="462.5" y2="271.2" stroke="#000" stroke-width="0.75" stroke-linecap="butt"/>
<line x1="456.7" y1="261" x2="468.3" y2="261" stroke="#000" stroke-width="0.75" stroke-linecap="butt"/>
<line x1="456.7" y1="271.2" x2="468.3" y2="271.2" stroke="#000" stroke-width="0.75" stroke-linecap="butt"/>
<circle cx="459" cy="260.5" r="1.7" fill="#000"/>
<circle cx="465.2" cy="258.7" r="1.7" fill="#000"/>
<circle cx="453.6" cy="267" r="1.7" fill="#000"/>
<circle cx="458.4" cy="267.6" r="1.7" fill="#000"/>
<circle cx="470.8" cy="267" r="1.7" fill="#000"/>
<circle cx="468.1" cy="269.4" r="1.7" fill="#000"/>
<circle cx="462.5" cy="272.9" r="1.7" fill="#000"/>
<line x1="436.2" y1="213.8" x2="462.5" y2="213.8" stroke="#000" stroke-width="1.4" stroke-linecap="butt"/>
<text x="449.8" y="212.3" font-size="11.8" font-weight="bold" text-anchor="middle" letter-spacing="0.9">*</text>
<text x="446.20000000000005" y="316.5" font-size="8.2" font-weight="bold" font-style="italic" text-anchor="end" transform="rotate(-25 446.20000000000005 316.5)" textLength="20.6" lengthAdjust="spacingAndGlyphs" stroke="#000" stroke-width="0.2">Il10<tspan font-size="5.576" dy="-2.706">−/−</tspan></text>
<text x="471.9" y="315.7" font-size="8.2" font-weight="bold" font-style="italic" text-anchor="end" transform="rotate(-25 471.9 315.7)" textLength="20.6" lengthAdjust="spacingAndGlyphs" stroke="#000" stroke-width="0.2">Il10<tspan font-size="5.576" dy="-2.706">−/−</tspan></text>
<text x="485.8" y="320.3" font-size="8.2" font-weight="bold" font-style="italic" text-anchor="end" transform="rotate(-25 485.8 320.3)" textLength="39.5" lengthAdjust="spacingAndGlyphs" stroke="#000" stroke-width="0.2">+ piroxicam</text>
<text x="553.3" y="30.5" font-size="10.8" font-weight="bold" text-anchor="middle" fill="#000" textLength="26" lengthAdjust="spacingAndGlyphs" >TNFα</text>
<line x1="524.3" y1="38.15" x2="524.3" y2="132.15" stroke="#000" stroke-width="1.3" stroke-linecap="butt"/>
<line x1="523.65" y1="131.5" x2="585" y2="131.5" stroke="#000" stroke-width="1.3" stroke-linecap="butt"/>
<line x1="520.6999999999999" y1="38.8" x2="524.3" y2="38.8" stroke="#000" stroke-width="1.3" stroke-linecap="butt"/>
<text x="519.1999999999999" y="41.5" font-size="7.6" font-weight="bold" text-anchor="end" fill="#000" stroke="#000" stroke-width="0.2">100</text>
<line x1="520.6999999999999" y1="69.8" x2="524.3" y2="69.8" stroke="#000" stroke-width="1.3" stroke-linecap="butt"/>
<text x="516.1999999999999" y="72.5" font-size="7.6" font-weight="bold" text-anchor="end" fill="#000" stroke="#000" stroke-width="0.2">10</text>
<line x1="520.6999999999999" y1="100.6" x2="524.3" y2="100.6" stroke="#000" stroke-width="1.3" stroke-linecap="butt"/>
<text x="519.1999999999999" y="103.3" font-size="7.6" font-weight="bold" text-anchor="end" fill="#000" stroke="#000" stroke-width="0.2">1</text>
<line x1="520.6999999999999" y1="131.5" x2="524.3" y2="131.5" stroke="#000" stroke-width="1.3" stroke-linecap="butt"/>
<text x="519.1999999999999" y="134.2" font-size="7.6" font-weight="bold" text-anchor="end" fill="#000" stroke="#000" stroke-width="0.2">0</text>
<line x1="541.9" y1="131.5" x2="541.9" y2="135.5" stroke="#000" stroke-width="1.3" stroke-linecap="butt"/>
<line x1="568.6" y1="131.5" x2="568.6" y2="135.5" stroke="#000" stroke-width="1.3" stroke-linecap="butt"/>
<text x="502.2" y="83.5" font-size="10.6" font-weight="bold" text-anchor="middle" fill="#000" textLength="61.3" lengthAdjust="spacingAndGlyphs" transform="rotate(-90 502.2 83.5)" stroke="#000" stroke-width="0.25">Fold Change</text>
<rect x="530.9" y="101" width="22.100000000000023" height="30.5" fill="#00c000" stroke="#000" stroke-width="1.35"/>
<line x1="541.9" y1="98.4" x2="541.9" y2="103.6" stroke="#000" stroke-width="1.0" stroke-linecap="butt"/>
<line x1="536.1999999999999" y1="98.4" x2="547.6" y2="98.4" stroke="#000" stroke-width="1.0" stroke-linecap="butt"/>
<line x1="536.1999999999999" y1="103.6" x2="547.6" y2="103.6" stroke="#000" stroke-width="1.0" stroke-linecap="butt"/>
<circle cx="541.9" cy="95.3" r="1.7" fill="#000"/>
<circle cx="538.8" cy="105.7" r="1.7" fill="#000"/>
<circle cx="544.8" cy="104" r="1.7" fill="#000"/>
<circle cx="541.9" cy="101.8" r="1.7" fill="#000"/>
<rect x="557.5" y="71.9" width="22.200000000000045" height="59.599999999999994" fill="#ff0000" stroke="#000" stroke-width="1.35"/>
<line x1="568.6" y1="68" x2="568.6" y2="75" stroke="#000" stroke-width="1.0" stroke-linecap="butt"/>
<line x1="562.9" y1="68" x2="574.3000000000001" y2="68" stroke="#000" stroke-width="1.0" stroke-linecap="butt"/>
<line x1="562.9" y1="75" x2="574.3000000000001" y2="75" stroke="#000" stroke-width="1.0" stroke-linecap="butt"/>
<circle cx="568.8" cy="60.3" r="1.7" fill="#000"/>
<circle cx="568.8" cy="64.4" r="1.7" fill="#000"/>
<circle cx="565.5" cy="74" r="1.7" fill="#000"/>
<circle cx="572.3" cy="74" r="1.7" fill="#000"/>
<circle cx="568.7" cy="79.3" r="1.7" fill="#000"/>
<circle cx="565.5" cy="87.3" r="1.7" fill="#000"/>
<circle cx="571.7" cy="86.7" r="1.7" fill="#000"/>
<line x1="541.8" y1="48.8" x2="568.7" y2="48.8" stroke="#000" stroke-width="1.4" stroke-linecap="butt"/>
<text x="555.7" y="48.599999999999994" font-size="11.8" font-weight="bold" text-anchor="middle" letter-spacing="0.9">**</text>
<text x="552.5" y="143.7" font-size="8.2" font-weight="bold" font-style="italic" text-anchor="end" transform="rotate(-25 552.5 143.7)" textLength="20.6" lengthAdjust="spacingAndGlyphs" stroke="#000" stroke-width="0.2">Il10<tspan font-size="5.576" dy="-2.706">−/−</tspan></text>
<text x="578.0" y="142.9" font-size="8.2" font-weight="bold" font-style="italic" text-anchor="end" transform="rotate(-25 578.0 142.9)" textLength="20.6" lengthAdjust="spacingAndGlyphs" stroke="#000" stroke-width="0.2">Il10<tspan font-size="5.576" dy="-2.706">−/−</tspan></text>
<text x="591.9" y="147.5" font-size="8.2" font-weight="bold" font-style="italic" text-anchor="end" transform="rotate(-25 591.9 147.5)" textLength="39.5" lengthAdjust="spacingAndGlyphs" stroke="#000" stroke-width="0.2">+ piroxicam</text>
<text x="555.4" y="195.5" font-size="10.8" font-weight="bold" text-anchor="middle" fill="#000" textLength="28" lengthAdjust="spacingAndGlyphs" >NOS2</text>
<line x1="524.3" y1="211.04999999999998" x2="524.3" y2="305.84999999999997" stroke="#000" stroke-width="1.3" stroke-linecap="butt"/>
<line x1="523.65" y1="305.2" x2="585" y2="305.2" stroke="#000" stroke-width="1.3" stroke-linecap="butt"/>
<line x1="520.6999999999999" y1="212.2" x2="524.3" y2="212.2" stroke="#000" stroke-width="1.3" stroke-linecap="butt"/>
<text x="519.1999999999999" y="214.89999999999998" font-size="7.6" font-weight="bold" text-anchor="end" fill="#000" stroke="#000" stroke-width="0.2">1000</text>
<line x1="520.6999999999999" y1="235.5" x2="524.3" y2="235.5" stroke="#000" stroke-width="1.3" stroke-linecap="butt"/>
<text x="517.8" y="238.2" font-size="7.6" font-weight="bold" text-anchor="end" fill="#000" stroke="#000" stroke-width="0.2">100</text>
<line x1="520.6999999999999" y1="258.7" x2="524.3" y2="258.7" stroke="#000" stroke-width="1.3" stroke-linecap="butt"/>
<text x="519.1999999999999" y="261.4" font-size="7.6" font-weight="bold" text-anchor="end" fill="#000" stroke="#000" stroke-width="0.2">10</text>
<line x1="520.6999999999999" y1="281.9" x2="524.3" y2="281.9" stroke="#000" stroke-width="1.3" stroke-linecap="butt"/>
<text x="519.1999999999999" y="284.59999999999997" font-size="7.6" font-weight="bold" text-anchor="end" fill="#000" stroke="#000" stroke-width="0.2">1</text>
<line x1="520.6999999999999" y1="305.2" x2="524.3" y2="305.2" stroke="#000" stroke-width="1.3" stroke-linecap="butt"/>
<text x="519.1999999999999" y="307.9" font-size="7.6" font-weight="bold" text-anchor="end" fill="#000" stroke="#000" stroke-width="0.2">0</text>
<line x1="542.2" y1="305.2" x2="542.2" y2="309.2" stroke="#000" stroke-width="1.3" stroke-linecap="butt"/>
<line x1="569.1" y1="305.2" x2="569.1" y2="309.2" stroke="#000" stroke-width="1.3" stroke-linecap="butt"/>
<text x="503.5" y="257.2" font-size="10.6" font-weight="bold" text-anchor="middle" fill="#000" textLength="61.3" lengthAdjust="spacingAndGlyphs" transform="rotate(-90 503.5 257.2)" stroke="#000" stroke-width="0.25">Fold Change</text>
<rect x="531.2" y="282.4" width="22.09999999999991" height="22.80000000000001" fill="#00c000" stroke="#000" stroke-width="1.35"/>
<line x1="542.2" y1="277.3" x2="542.2" y2="288.3" stroke="#000" stroke-width="1.0" stroke-linecap="butt"/>
<line x1="536.5" y1="277.3" x2="547.9000000000001" y2="277.3" stroke="#000" stroke-width="1.0" stroke-linecap="butt"/>
<line x1="536.5" y1="288.3" x2="547.9000000000001" y2="288.3" stroke="#000" stroke-width="1.0" stroke-linecap="butt"/>
<circle cx="541.8" cy="272.6" r="1.7" fill="#000"/>
<circle cx="539.1" cy="285.3" r="1.7" fill="#000"/>
<circle cx="545" cy="286.8" r="1.7" fill="#000"/>
<circle cx="541.8" cy="294.2" r="1.7" fill="#000"/>
<rect x="558" y="230" width="22.299999999999955" height="75.19999999999999" fill="#ff0000" stroke="#000" stroke-width="1.35"/>
<line x1="569.1" y1="226.2" x2="569.1" y2="235.1" stroke="#000" stroke-width="1.0" stroke-linecap="butt"/>
<line x1="563.4" y1="226.2" x2="574.8000000000001" y2="226.2" stroke="#000" stroke-width="1.0" stroke-linecap="butt"/>
<line x1="563.4" y1="235.1" x2="574.8000000000001" y2="235.1" stroke="#000" stroke-width="1.0" stroke-linecap="butt"/>
<circle cx="566.4" cy="218.8" r="1.7" fill="#000"/>
<circle cx="571.7" cy="221.2" r="1.7" fill="#000"/>
<circle cx="570.8" cy="232.5" r="1.7" fill="#000"/>
<circle cx="566.4" cy="234.8" r="1.7" fill="#000"/>
<circle cx="569" cy="246.4" r="1.7" fill="#000"/>
<circle cx="566.4" cy="252.3" r="1.7" fill="#000"/>
<circle cx="571.7" cy="250.8" r="1.7" fill="#000"/>
<line x1="542.1" y1="207.9" x2="569.3" y2="207.9" stroke="#000" stroke-width="1.4" stroke-linecap="butt"/>
<text x="556.1500000000001" y="207.70000000000002" font-size="11.8" font-weight="bold" text-anchor="middle" letter-spacing="0.9">**</text>
<text x="552.8000000000001" y="317.4" font-size="8.2" font-weight="bold" font-style="italic" text-anchor="end" transform="rotate(-25 552.8000000000001 317.4)" textLength="20.6" lengthAdjust="spacingAndGlyphs" stroke="#000" stroke-width="0.2">Il10<tspan font-size="5.576" dy="-2.706">−/−</tspan></text>
<text x="578.5" y="316.59999999999997" font-size="8.2" font-weight="bold" font-style="italic" text-anchor="end" transform="rotate(-25 578.5 316.59999999999997)" textLength="20.6" lengthAdjust="spacingAndGlyphs" stroke="#000" stroke-width="0.2">Il10<tspan font-size="5.576" dy="-2.706">−/−</tspan></text>
<text x="592.4" y="321.2" font-size="8.2" font-weight="bold" font-style="italic" text-anchor="end" transform="rotate(-25 592.4 321.2)" textLength="39.5" lengthAdjust="spacingAndGlyphs" stroke="#000" stroke-width="0.2">+ piroxicam</text>
<text x="648" y="30.5" font-size="10.8" font-weight="bold" text-anchor="middle" fill="#000" textLength="19" lengthAdjust="spacingAndGlyphs" >IL-6</text>
<line x1="618.4" y1="37.85" x2="618.4" y2="132.15" stroke="#000" stroke-width="1.3" stroke-linecap="butt"/>
<line x1="617.75" y1="131.5" x2="680.3" y2="131.5" stroke="#000" stroke-width="1.3" stroke-linecap="butt"/>
<line x1="614.8" y1="38.5" x2="618.4" y2="38.5" stroke="#000" stroke-width="1.3" stroke-linecap="butt"/>
<text x="613.3" y="41.2" font-size="7.6" font-weight="bold" text-anchor="end" fill="#000" stroke="#000" stroke-width="0.2">10</text>
<line x1="614.8" y1="84.9" x2="618.4" y2="84.9" stroke="#000" stroke-width="1.3" stroke-linecap="butt"/>
<text x="613.3" y="87.60000000000001" font-size="7.6" font-weight="bold" text-anchor="end" fill="#000" stroke="#000" stroke-width="0.2">1</text>
<line x1="614.8" y1="131.5" x2="618.4" y2="131.5" stroke="#000" stroke-width="1.3" stroke-linecap="butt"/>
<text x="613.3" y="134.2" font-size="7.6" font-weight="bold" text-anchor="end" fill="#000" stroke="#000" stroke-width="0.2">0</text>
<line x1="635.9" y1="131.5" x2="635.9" y2="135.5" stroke="#000" stroke-width="1.3" stroke-linecap="butt"/>
<line x1="663" y1="131.5" x2="663" y2="135.5" stroke="#000" stroke-width="1.3" stroke-linecap="butt"/>
<text x="601" y="83.5" font-size="10.6" font-weight="bold" text-anchor="middle" fill="#000" textLength="61.3" lengthAdjust="spacingAndGlyphs" transform="rotate(-90 601 83.5)" stroke="#000" stroke-width="0.25">Fold Change</text>
<rect x="624.6" y="85.5" width="22.5" height="46.0" fill="#00c000" stroke="#000" stroke-width="1.35"/>
<line x1="635.9" y1="81.7" x2="635.9" y2="88.2" stroke="#000" stroke-width="1.0" stroke-linecap="butt"/>
<line x1="630.1999999999999" y1="81.7" x2="641.6" y2="81.7" stroke="#000" stroke-width="1.0" stroke-linecap="butt"/>
<line x1="630.1999999999999" y1="88.2" x2="641.6" y2="88.2" stroke="#000" stroke-width="1.0" stroke-linecap="butt"/>
<circle cx="636.2" cy="78.4" r="1.7" fill="#000"/>
<circle cx="633" cy="85.8" r="1.7" fill="#000"/>
<circle cx="639.4" cy="85.8" r="1.7" fill="#000"/>
<circle cx="636.2" cy="96" r="1.7" fill="#000"/>
<rect x="651.9" y="74.5" width="22.100000000000023" height="57.0" fill="#ff0000" stroke="#000" stroke-width="1.35"/>
<line x1="663" y1="71.6" x2="663" y2="77.5" stroke="#000" stroke-width="1.0" stroke-linecap="butt"/>
<line x1="657.3" y1="71.6" x2="668.7" y2="71.6" stroke="#000" stroke-width="1.0" stroke-linecap="butt"/>
<line x1="657.3" y1="77.5" x2="668.7" y2="77.5" stroke="#000" stroke-width="1.0" stroke-linecap="butt"/>
<circle cx="663.1" cy="63.6" r="1.7" fill="#000"/>
<circle cx="663.1" cy="68.6" r="1.7" fill="#000"/>
<circle cx="658.4" cy="75.4" r="1.7" fill="#000"/>
<circle cx="667.8" cy="75.4" r="1.7" fill="#000"/>
<circle cx="662.8" cy="77.5" r="1.7" fill="#000"/>
<circle cx="657.8" cy="81.8" r="1.7" fill="#000"/>
<circle cx="668.7" cy="81" r="1.7" fill="#000"/>
<circle cx="663.4" cy="79.5" r="1.7" fill="#000"/>
<line x1="636.2" y1="52.7" x2="663.1" y2="52.7" stroke="#000" stroke-width="1.4" stroke-linecap="butt"/>
<text x="650.1000000000001" y="52.5" font-size="11.8" font-weight="bold" text-anchor="middle" letter-spacing="0.9">*</text>
<text x="646.5" y="143.7" font-size="8.2" font-weight="bold" font-style="italic" text-anchor="end" transform="rotate(-25 646.5 143.7)" textLength="20.6" lengthAdjust="spacingAndGlyphs" stroke="#000" stroke-width="0.2">Il10<tspan font-size="5.576" dy="-2.706">−/−</tspan></text>
<text x="672.4" y="142.9" font-size="8.2" font-weight="bold" font-style="italic" text-anchor="end" transform="rotate(-25 672.4 142.9)" textLength="20.6" lengthAdjust="spacingAndGlyphs" stroke="#000" stroke-width="0.2">Il10<tspan font-size="5.576" dy="-2.706">−/−</tspan></text>
<text x="686.3" y="147.5" font-size="8.2" font-weight="bold" font-style="italic" text-anchor="end" transform="rotate(-25 686.3 147.5)" textLength="39.5" lengthAdjust="spacingAndGlyphs" stroke="#000" stroke-width="0.2">+ piroxicam</text>
<text x="648" y="195.5" font-size="10.8" font-weight="bold" text-anchor="middle" fill="#000" textLength="26" lengthAdjust="spacingAndGlyphs" >IL-1β</text>
<line x1="618.4" y1="211.35" x2="618.4" y2="306.15" stroke="#000" stroke-width="1.3" stroke-linecap="butt"/>
<line x1="617.75" y1="305.5" x2="680.3" y2="305.5" stroke="#000" stroke-width="1.3" stroke-linecap="butt"/>
<line x1="614.8" y1="212" x2="618.4" y2="212" stroke="#000" stroke-width="1.3" stroke-linecap="butt"/>
<text x="613.3" y="214.7" font-size="7.6" font-weight="bold" text-anchor="end" fill="#000" stroke="#000" stroke-width="0.2">100</text>
<line x1="614.8" y1="243.3" x2="618.4" y2="243.3" stroke="#000" stroke-width="1.3" stroke-linecap="butt"/>
<text x="613.3" y="246.0" font-size="7.6" font-weight="bold" text-anchor="end" fill="#000" stroke="#000" stroke-width="0.2">10</text>
<line x1="614.8" y1="274.4" x2="618.4" y2="274.4" stroke="#000" stroke-width="1.3" stroke-linecap="butt"/>
<text x="613.3" y="277.09999999999997" font-size="7.6" font-weight="bold" text-anchor="end" fill="#000" stroke="#000" stroke-width="0.2">1</text>
<line x1="614.8" y1="305.5" x2="618.4" y2="305.5" stroke="#000" stroke-width="1.3" stroke-linecap="butt"/>
<text x="613.3" y="308.2" font-size="7.6" font-weight="bold" text-anchor="end" fill="#000" stroke="#000" stroke-width="0.2">0</text>
<line x1="636.3" y1="305.5" x2="636.3" y2="309.5" stroke="#000" stroke-width="1.3" stroke-linecap="butt"/>
<line x1="663.3" y1="305.5" x2="663.3" y2="309.5" stroke="#000" stroke-width="1.3" stroke-linecap="butt"/>
<text x="601" y="257.2" font-size="10.6" font-weight="bold" text-anchor="middle" fill="#000" textLength="61.3" lengthAdjust="spacingAndGlyphs" transform="rotate(-90 601 257.2)" stroke="#000" stroke-width="0.25">Fold Change</text>
<rect x="625.2" y="275" width="22.199999999999932" height="30.5" fill="#00c000" stroke="#000" stroke-width="1.35"/>
<line x1="636.3" y1="271.7" x2="636.3" y2="278" stroke="#000" stroke-width="1.0" stroke-linecap="butt"/>
<line x1="630.5999999999999" y1="271.7" x2="642.0" y2="271.7" stroke="#000" stroke-width="1.0" stroke-linecap="butt"/>
<line x1="630.5999999999999" y1="278" x2="642.0" y2="278" stroke="#000" stroke-width="1.0" stroke-linecap="butt"/>
<circle cx="636.2" cy="267.6" r="1.7" fill="#000"/>
<circle cx="633.2" cy="275.3" r="1.7" fill="#000"/>
<circle cx="639.4" cy="275.9" r="1.7" fill="#000"/>
<circle cx="636.2" cy="282.4" r="1.7" fill="#000"/>
<rect x="652.2" y="249.5" width="22.09999999999991" height="56.0" fill="#ff0000" stroke="#000" stroke-width="1.35"/>
<line x1="663.3" y1="246.3" x2="663.3" y2="252.8" stroke="#000" stroke-width="1.0" stroke-linecap="butt"/>
<line x1="657.5999999999999" y1="246.3" x2="669.0" y2="246.3" stroke="#000" stroke-width="1.0" stroke-linecap="butt"/>
<line x1="657.5999999999999" y1="252.8" x2="669.0" y2="252.8" stroke="#000" stroke-width="1.0" stroke-linecap="butt"/>
<circle cx="663.4" cy="238" r="1.7" fill="#000"/>
<circle cx="660.4" cy="244" r="1.7" fill="#000"/>
<circle cx="665.5" cy="244" r="1.7" fill="#000"/>
<circle cx="663.4" cy="245.4" r="1.7" fill="#000"/>
<circle cx="661.3" cy="250.4" r="1.7" fill="#000"/>
<circle cx="663.4" cy="258.7" r="1.7" fill="#000"/>
<circle cx="663.4" cy="263.7" r="1.7" fill="#000"/>
<circle cx="663.4" cy="268.8" r="1.7" fill="#000"/>
<line x1="636.2" y1="227.1" x2="663.1" y2="227.1" stroke="#000" stroke-width="1.4" stroke-linecap="butt"/>
<text x="650.1000000000001" y="226.9" font-size="11.8" font-weight="bold" text-anchor="middle" letter-spacing="0.9">*</text>
<text x="646.9" y="317.7" font-size="8.2" font-weight="bold" font-style="italic" text-anchor="end" transform="rotate(-25 646.9 317.7)" textLength="20.6" lengthAdjust="spacingAndGlyphs" stroke="#000" stroke-width="0.2">Il10<tspan font-size="5.576" dy="-2.706">−/−</tspan></text>
<text x="672.6999999999999" y="316.9" font-size="8.2" font-weight="bold" font-style="italic" text-anchor="end" transform="rotate(-25 672.6999999999999 316.9)" textLength="20.6" lengthAdjust="spacingAndGlyphs" stroke="#000" stroke-width="0.2">Il10<tspan font-size="5.576" dy="-2.706">−/−</tspan></text>
<text x="686.5999999999999" y="321.5" font-size="8.2" font-weight="bold" font-style="italic" text-anchor="end" transform="rotate(-25 686.5999999999999 321.5)" textLength="39.5" lengthAdjust="spacingAndGlyphs" stroke="#000" stroke-width="0.2">+ piroxicam</text>
</g>
</svg>
</body></html>
